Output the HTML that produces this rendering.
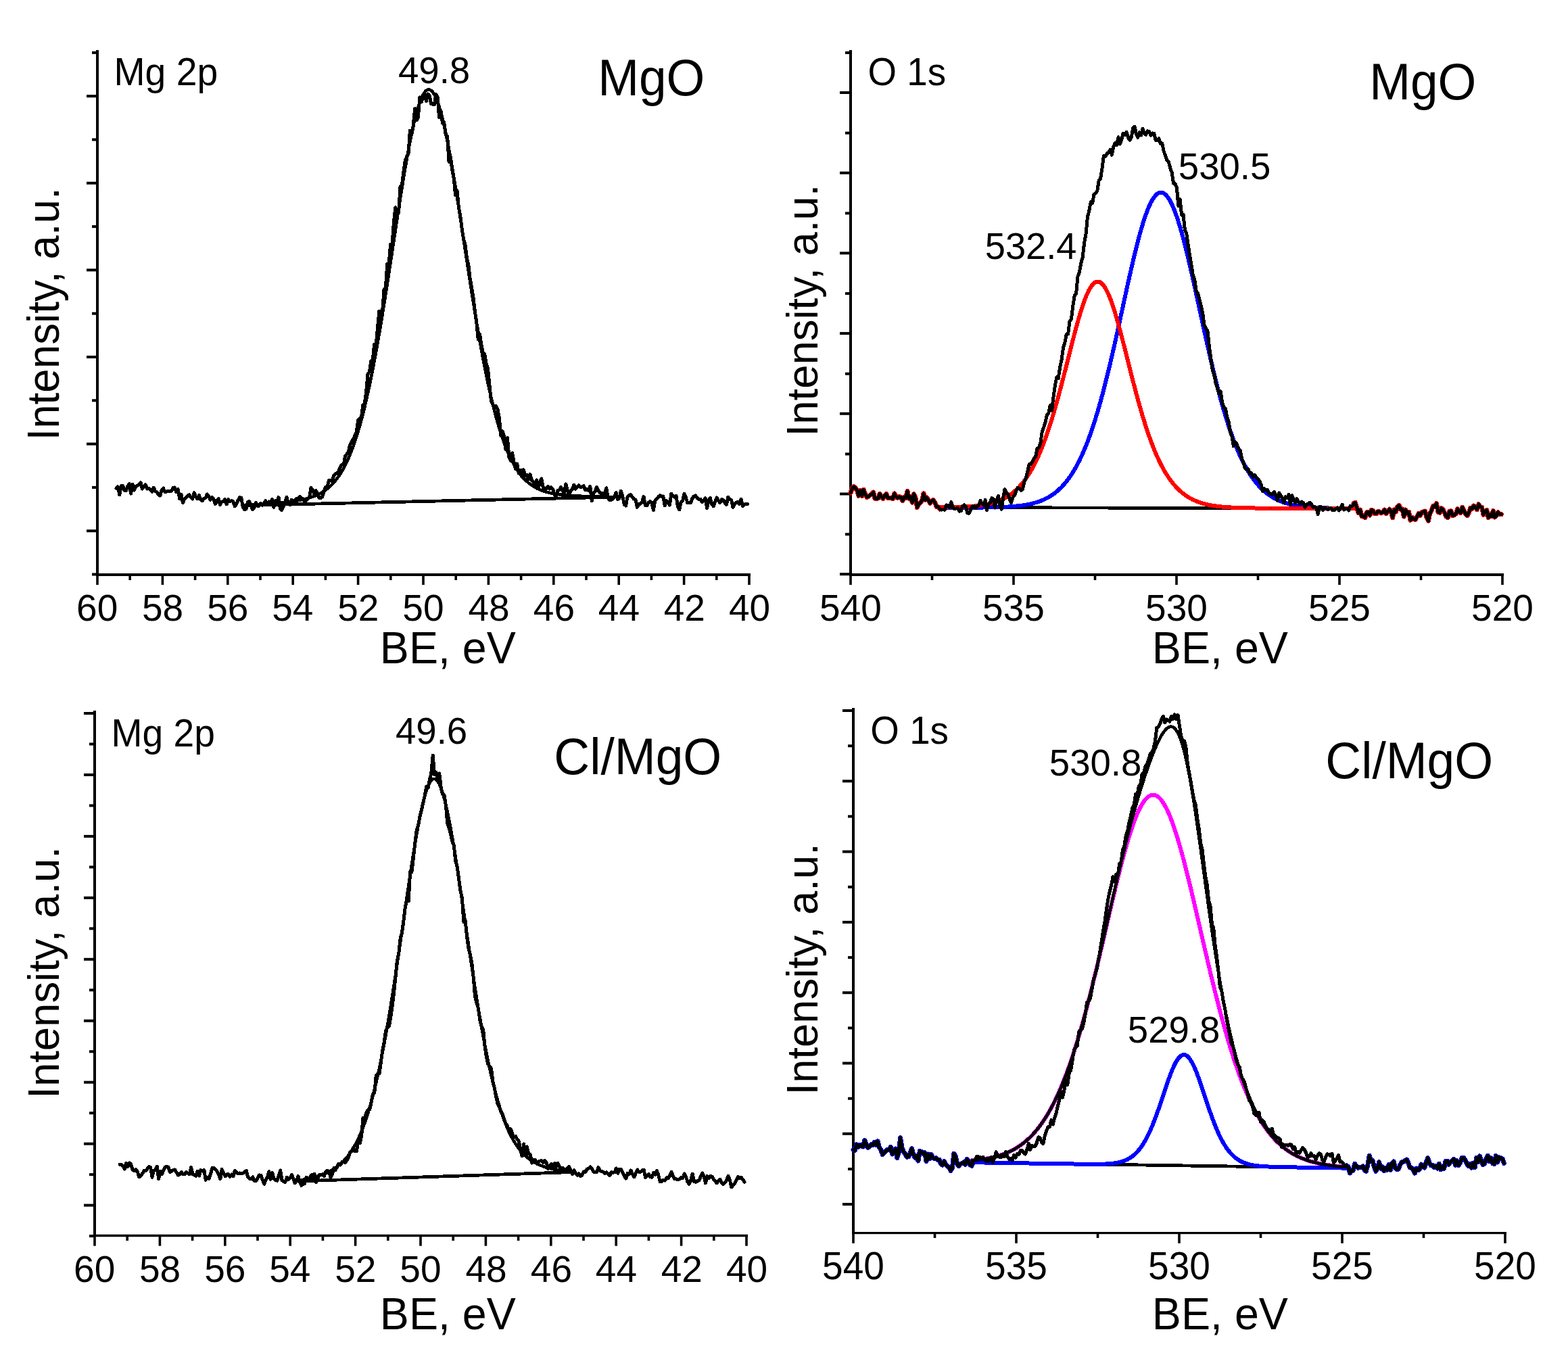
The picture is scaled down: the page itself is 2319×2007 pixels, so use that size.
<!DOCTYPE html>
<html><head><meta charset="utf-8"><title>XPS spectra</title>
<style>html,body{margin:0;padding:0;background:#fff;}svg{display:block;}</style></head>
<body><svg width="2319" height="2007" viewBox="0 0 2319 2007">
<rect width="2319" height="2007" fill="#fff"/>
<rect x="142.00" y="74.00" width="4.00" height="778.00" fill="#000"/>
<rect x="142.00" y="848.00" width="968.00" height="4.00" fill="#000"/>
<rect x="128.00" y="140.20" width="16.00" height="4.00" fill="#000"/>
<rect x="128.00" y="268.80" width="16.00" height="4.00" fill="#000"/>
<rect x="128.00" y="397.40" width="16.00" height="4.00" fill="#000"/>
<rect x="128.00" y="526.00" width="16.00" height="4.00" fill="#000"/>
<rect x="128.00" y="654.60" width="16.00" height="4.00" fill="#000"/>
<rect x="128.00" y="783.20" width="16.00" height="4.00" fill="#000"/>
<rect x="136.00" y="75.90" width="8.00" height="4.00" fill="#000"/>
<rect x="136.00" y="204.50" width="8.00" height="4.00" fill="#000"/>
<rect x="136.00" y="333.10" width="8.00" height="4.00" fill="#000"/>
<rect x="136.00" y="461.70" width="8.00" height="4.00" fill="#000"/>
<rect x="136.00" y="590.30" width="8.00" height="4.00" fill="#000"/>
<rect x="136.00" y="718.90" width="8.00" height="4.00" fill="#000"/>
<rect x="136.00" y="847.50" width="8.00" height="4.00" fill="#000"/>
<rect x="142.20" y="850.00" width="3.60" height="15.00" fill="#000"/>
<rect x="238.60" y="850.00" width="3.60" height="15.00" fill="#000"/>
<rect x="335.00" y="850.00" width="3.60" height="15.00" fill="#000"/>
<rect x="431.40" y="850.00" width="3.60" height="15.00" fill="#000"/>
<rect x="527.80" y="850.00" width="3.60" height="15.00" fill="#000"/>
<rect x="624.20" y="850.00" width="3.60" height="15.00" fill="#000"/>
<rect x="720.60" y="850.00" width="3.60" height="15.00" fill="#000"/>
<rect x="817.00" y="850.00" width="3.60" height="15.00" fill="#000"/>
<rect x="913.40" y="850.00" width="3.60" height="15.00" fill="#000"/>
<rect x="1009.80" y="850.00" width="3.60" height="15.00" fill="#000"/>
<rect x="1106.20" y="850.00" width="3.60" height="15.00" fill="#000"/>
<rect x="190.40" y="850.00" width="3.60" height="8.00" fill="#000"/>
<rect x="286.80" y="850.00" width="3.60" height="8.00" fill="#000"/>
<rect x="383.20" y="850.00" width="3.60" height="8.00" fill="#000"/>
<rect x="479.60" y="850.00" width="3.60" height="8.00" fill="#000"/>
<rect x="576.00" y="850.00" width="3.60" height="8.00" fill="#000"/>
<rect x="672.40" y="850.00" width="3.60" height="8.00" fill="#000"/>
<rect x="768.80" y="850.00" width="3.60" height="8.00" fill="#000"/>
<rect x="865.20" y="850.00" width="3.60" height="8.00" fill="#000"/>
<rect x="961.60" y="850.00" width="3.60" height="8.00" fill="#000"/>
<rect x="1058.00" y="850.00" width="3.60" height="8.00" fill="#000"/>
<path d="M360.0,747.5 L915.0,735.0" fill="none" stroke="#000" stroke-width="4.80" stroke-linejoin="round" stroke-linecap="round" shape-rendering="crispEdges"/>
<path d="M360.0,747.5 L361.5,747.4 L363.0,747.3 L364.5,747.2 L366.0,747.2 L367.5,747.1 L369.0,747.0 L370.5,746.9 L372.0,746.8 L373.5,746.7 L375.0,746.6 L376.5,746.5 L378.0,746.4 L379.5,746.3 L381.0,746.2 L382.5,746.1 L384.0,746.0 L385.5,745.9 L387.0,745.8 L388.5,745.7 L390.0,745.6 L391.5,745.5 L393.0,745.4 L394.5,745.3 L396.0,745.2 L397.5,745.1 L399.0,744.9 L400.5,744.8 L402.0,744.7 L403.5,744.6 L405.0,744.5 L406.5,744.3 L408.0,744.2 L409.5,744.1 L411.0,743.9 L412.5,743.8 L414.0,743.6 L415.5,743.5 L417.0,743.4 L418.5,743.2 L420.0,743.0 L421.5,742.9 L423.0,742.7 L424.5,742.5 L426.0,742.4 L427.5,742.2 L429.0,742.0 L430.5,741.8 L432.0,741.6 L433.5,741.4 L435.0,741.2 L436.5,740.9 L438.0,740.7 L439.5,740.4 L441.0,740.2 L442.5,739.9 L444.0,739.6 L445.5,739.3 L447.0,739.0 L448.5,738.7 L450.0,738.3 L451.5,738.0 L453.0,737.6 L454.5,737.2 L456.0,736.8 L457.5,736.3 L459.0,735.9 L460.5,735.4 L462.0,734.9 L463.5,734.3 L465.0,733.7 L466.5,733.1 L468.0,732.5 L469.5,731.8 L471.0,731.1 L472.5,730.3 L474.0,729.5 L475.5,728.7 L477.0,727.8 L478.5,726.8 L480.0,725.8 L481.5,724.8 L483.0,723.6 L484.5,722.4 L486.0,721.2 L487.5,719.9 L489.0,718.5 L490.5,717.0 L492.0,715.4 L493.5,713.8 L495.0,712.1 L496.5,710.3 L498.0,708.3 L499.5,706.3 L501.0,704.2 L502.5,702.0 L504.0,699.6 L505.5,697.2 L507.0,694.6 L508.5,691.9 L510.0,689.0 L511.5,686.1 L513.0,683.0 L514.5,679.7 L516.0,676.3 L517.5,672.8 L519.0,669.1 L520.5,665.2 L522.0,661.2 L523.5,657.0 L525.0,652.6 L526.5,648.1 L528.0,643.4 L529.5,638.5 L531.0,633.4 L532.5,628.2 L534.0,622.7 L535.5,617.1 L537.0,611.3 L538.5,605.3 L540.0,599.1 L541.5,592.7 L543.0,586.1 L544.5,579.3 L546.0,572.4 L547.5,565.2 L549.0,557.8 L550.5,550.3 L552.0,542.6 L553.5,534.7 L555.0,526.6 L556.5,518.4 L558.0,510.0 L559.5,501.4 L561.0,492.7 L562.5,483.8 L564.0,474.8 L565.5,465.7 L567.0,456.4 L568.5,447.0 L570.0,437.5 L571.5,427.9 L573.0,418.3 L574.5,408.5 L576.0,398.7 L577.5,388.8 L579.0,378.9 L580.5,369.0 L582.0,359.0 L583.5,349.1 L585.0,339.2 L586.5,329.3 L588.0,319.5 L589.5,309.7 L591.0,300.0 L592.5,290.4 L594.0,280.9 L595.5,271.6 L597.0,262.4 L598.5,253.4 L600.0,244.6 L601.5,235.9 L603.0,227.5 L604.5,219.4 L606.0,211.5 L607.5,203.9 L609.0,196.6 L610.5,189.6 L612.0,182.9 L613.5,176.6 L615.0,170.6 L616.5,165.0 L618.0,159.9 L619.5,155.1 L621.0,150.8 L622.5,146.9 L624.0,143.4 L625.5,140.4 L627.0,137.9 L628.5,135.8 L630.0,134.2 L631.5,133.1 L633.0,132.5 L634.5,132.4 L636.0,132.8 L637.5,133.6 L639.0,135.0 L640.5,136.8 L642.0,139.1 L643.5,141.9 L645.0,145.1 L646.5,148.8 L648.0,153.0 L649.5,157.5 L651.0,162.5 L652.5,167.9 L654.0,173.6 L655.5,179.8 L657.0,186.3 L658.5,193.1 L660.0,200.2 L661.5,207.7 L663.0,215.4 L664.5,223.4 L666.0,231.7 L667.5,240.1 L669.0,248.8 L670.5,257.7 L672.0,266.8 L673.5,276.0 L675.0,285.4 L676.5,294.8 L678.0,304.4 L679.5,314.1 L681.0,323.8 L682.5,333.6 L684.0,343.5 L685.5,353.4 L687.0,363.2 L688.5,373.1 L690.0,382.9 L691.5,392.8 L693.0,402.5 L694.5,412.2 L696.0,421.9 L697.5,431.4 L699.0,440.9 L700.5,450.2 L702.0,459.5 L703.5,468.6 L705.0,477.6 L706.5,486.4 L708.0,495.1 L709.5,503.7 L711.0,512.1 L712.5,520.3 L714.0,528.4 L715.5,536.3 L717.0,544.0 L718.5,551.5 L720.0,558.8 L721.5,566.0 L723.0,572.9 L724.5,579.7 L726.0,586.3 L727.5,592.7 L729.0,598.9 L730.5,604.9 L732.0,610.7 L733.5,616.3 L735.0,621.7 L736.5,627.0 L738.0,632.1 L739.5,636.9 L741.0,641.6 L742.5,646.2 L744.0,650.5 L745.5,654.7 L747.0,658.7 L748.5,662.5 L750.0,666.2 L751.5,669.8 L753.0,673.1 L754.5,676.4 L756.0,679.5 L757.5,682.4 L759.0,685.2 L760.5,687.9 L762.0,690.4 L763.5,692.9 L765.0,695.2 L766.5,697.4 L768.0,699.5 L769.5,701.5 L771.0,703.3 L772.5,705.1 L774.0,706.8 L775.5,708.4 L777.0,709.9 L778.5,711.4 L780.0,712.7 L781.5,714.0 L783.0,715.2 L784.5,716.3 L786.0,717.4 L787.5,718.4 L789.0,719.4 L790.5,720.3 L792.0,721.1 L793.5,721.9 L795.0,722.7 L796.5,723.4 L798.0,724.1 L799.5,724.7 L801.0,725.3 L802.5,725.8 L804.0,726.3 L805.5,726.8 L807.0,727.3 L808.5,727.7 L810.0,728.1 L811.5,728.5 L813.0,728.9 L814.5,729.2 L816.0,729.5 L817.5,729.8 L819.0,730.1 L820.5,730.4 L822.0,730.6 L823.5,730.8 L825.0,731.1 L826.5,731.3 L828.0,731.5 L829.5,731.6 L831.0,731.8 L832.5,732.0 L834.0,732.1 L835.5,732.3 L837.0,732.4 L838.5,732.5 L840.0,732.7 L841.5,732.8 L843.0,732.9 L844.5,733.0 L846.0,733.1 L847.5,733.2 L849.0,733.3 L850.5,733.4 L852.0,733.5 L853.5,733.5 L855.0,733.6 L856.5,733.7 L858.0,733.7 L859.5,733.8 L861.0,733.9 L862.5,733.9 L864.0,734.0 L865.5,734.0 L867.0,734.1 L868.5,734.1 L870.0,734.2 L871.5,734.2 L873.0,734.3 L874.5,734.3 L876.0,734.4 L877.5,734.4 L879.0,734.4 L880.5,734.5 L882.0,734.5 L883.5,734.5 L885.0,734.6 L886.5,734.6 L888.0,734.6 L889.5,734.7 L891.0,734.7 L892.5,734.7 L894.0,734.7 L895.5,734.8 L897.0,734.8 L898.5,734.8 L900.0,734.8 L901.5,734.9 L903.0,734.9 L904.5,734.9 L906.0,734.9 L907.5,734.9 L909.0,734.9 L910.5,735.0 L912.0,735.0 L913.5,735.0 L915.0,735.0" fill="none" stroke="#000" stroke-width="4.60" stroke-linejoin="round" stroke-linecap="round" shape-rendering="crispEdges"/>
<path d="M172.0,722.5 L174.4,719.9 L176.8,731.8 L179.2,718.7 L181.6,718.6 L184.0,725.1 L186.4,725.4 L188.8,719.3 L191.2,715.4 L193.6,730.2 L196.0,716.1 L198.4,725.1 L200.8,719.2 L203.2,718.1 L205.6,716.4 L208.0,713.6 L210.4,723.0 L212.8,719.6 L215.2,716.9 L217.6,723.0 L220.0,722.1 L222.4,724.1 L224.8,727.1 L227.2,721.2 L229.6,726.4 L232.0,727.9 L234.4,731.9 L236.8,733.0 L239.2,724.5 L241.6,722.1 L244.0,727.6 L246.4,727.2 L248.8,726.2 L251.2,726.4 L253.6,726.1 L256.0,721.2 L258.4,721.0 L260.8,727.8 L263.2,723.5 L265.6,737.7 L268.0,731.3 L270.4,743.5 L272.8,738.0 L275.2,735.7 L277.6,733.1 L280.0,731.6 L282.4,735.5 L284.8,738.0 L287.2,728.7 L289.6,734.8 L292.0,737.8 L294.4,732.2 L296.8,739.2 L299.2,740.7 L301.6,737.4 L304.0,736.3 L306.4,731.0 L308.8,734.3 L311.2,739.4 L313.6,735.7 L316.0,738.2 L318.4,745.3 L320.8,740.4 L323.2,737.6 L325.6,746.4 L328.0,742.0 L330.4,741.9 L332.8,738.3 L335.2,746.0 L337.6,738.8 L340.0,742.0 L342.4,740.6 L344.8,741.6 L347.2,748.6 L349.6,745.9 L352.0,740.0 L354.4,735.8 L356.8,736.2 L359.2,749.7 L361.6,753.4 L364.0,753.1 L366.4,742.2 L368.8,741.7 L371.2,747.4 L373.6,753.6 L376.0,750.4 L378.4,743.7 L380.8,748.2 L383.2,748.1 L385.6,744.8 L388.0,747.4 L390.4,744.8 L392.8,740.6 L395.2,746.2 L397.6,741.9 L400.0,743.0 L402.4,738.6 L404.8,750.3 L407.2,740.8 L409.6,741.9 L412.0,735.5 L414.4,752.0 L416.8,754.4 L419.2,749.1 L421.6,743.2 L424.0,735.3 L426.4,744.1 L428.8,746.9 L431.2,739.4 L433.6,743.3 L436.0,739.8 L438.4,737.7 L440.8,738.8 L443.2,734.5 L445.6,736.7 L448.0,738.0 L450.4,742.1 L452.8,739.8 L455.2,737.8 L457.6,735.3 L460.0,721.4 L462.4,724.6 L464.8,730.6 L467.2,725.6 L469.6,729.3 L472.0,736.3 L474.4,736.7 L476.8,734.8 L479.2,726.8 L481.6,720.2 L484.0,720.2 L486.4,710.7 L488.8,710.7 L491.2,711.9 L493.6,703.1 L496.0,700.8 L498.4,700.3 L500.8,696.8 L503.2,690.5 L505.6,687.4 L508.0,688.4 L510.4,675.0 L512.8,671.6 L515.2,668.2 L517.6,658.1 L520.0,653.6 L522.4,649.5 L524.8,644.5 L527.2,638.7 L529.6,621.7 L532.0,618.8 L534.4,618.7 L536.8,599.3 L539.2,597.0 L541.6,579.6 L544.0,552.9 L546.4,549.9 L548.8,533.8 L551.2,533.2 L553.6,509.3 L556.0,513.0 L558.4,486.2 L560.8,460.1 L563.2,470.2 L565.6,460.3 L568.0,428.5 L570.4,425.1 L572.8,390.0 L575.2,389.9 L577.6,361.4 L580.0,362.2 L582.4,329.2 L584.8,306.7 L587.2,315.0 L589.6,314.2 L592.0,276.5 L594.4,273.9 L596.8,254.7 L599.2,237.9 L601.6,231.9 L604.0,227.5 L606.4,193.2 L608.8,198.9 L611.2,186.3 L613.6,160.7 L616.0,177.9 L618.4,174.1 L620.8,143.9 L623.2,151.0 L625.6,143.0 L628.0,137.9 L630.4,149.8 L632.8,139.0 L635.2,141.6 L637.6,153.6 L640.0,154.3 L642.4,154.8 L644.8,139.6 L647.2,143.8 L649.6,173.8 L652.0,164.1 L654.4,181.9 L656.8,181.5 L659.2,198.9 L661.6,201.1 L664.0,239.3 L666.4,232.2 L668.8,252.2 L671.2,263.9 L673.6,288.6 L676.0,281.7 L678.4,306.8 L680.8,319.2 L683.2,338.6 L685.6,353.8 L688.0,362.0 L690.4,381.5 L692.8,391.1 L695.2,412.2 L697.6,425.5 L700.0,440.3 L702.4,460.9 L704.8,476.9 L707.2,501.9 L709.6,494.2 L712.0,510.5 L714.4,521.8 L716.8,523.8 L719.2,538.0 L721.6,545.5 L724.0,570.1 L726.4,592.7 L728.8,597.7 L731.2,604.8 L733.6,600.7 L736.0,605.7 L738.4,618.0 L740.8,644.5 L743.2,637.8 L745.6,645.0 L748.0,664.9 L750.4,647.5 L752.8,675.6 L755.2,681.4 L757.6,669.8 L760.0,682.8 L762.4,693.8 L764.8,686.0 L767.2,699.6 L769.6,695.1 L772.0,705.3 L774.4,694.8 L776.8,703.9 L779.2,702.6 L781.6,709.1 L784.0,701.6 L786.4,710.0 L788.8,713.4 L791.2,718.3 L793.6,709.8 L796.0,722.3 L798.4,713.0 L800.8,708.0 L803.2,720.5 L805.6,726.4 L808.0,722.1 L810.4,719.6 L812.8,723.0 L815.2,720.9 L817.6,723.3 L820.0,731.5 L822.4,734.3 L824.8,725.5 L827.2,724.6 L829.6,720.8 L832.0,725.8 L834.4,730.0 L836.8,716.0 L839.2,725.4 L841.6,732.9 L844.0,725.6 L846.4,723.4 L848.8,717.1 L851.2,723.2 L853.6,719.9 L856.0,717.8 L858.4,720.9 L860.8,719.8 L863.2,718.7 L865.6,724.8 L868.0,723.2 L870.4,725.2 L872.8,719.5 L875.2,741.0 L877.6,729.9 L880.0,727.3 L882.4,720.5 L884.8,725.1 L887.2,728.9 L889.6,729.8 L892.0,729.9 L894.4,729.7 L896.8,721.9 L899.2,736.5 L901.6,740.0 L904.0,739.5 L906.4,738.0 L908.8,734.7 L911.2,728.4 L913.6,738.8 L916.0,736.6 L918.4,726.1 L920.8,734.0 L923.2,745.8 L925.6,748.0 L928.0,734.8 L930.4,732.4 L932.8,731.7 L935.2,735.3 L937.6,738.1 L940.0,739.2 L942.4,750.2 L944.8,745.4 L947.2,745.3 L949.6,742.5 L952.0,734.5 L954.4,747.4 L956.8,747.9 L959.2,743.3 L961.6,741.3 L964.0,743.5 L966.4,754.8 L968.8,740.6 L971.2,738.2 L973.6,734.9 L976.0,732.6 L978.4,734.2 L980.8,733.9 L983.2,747.9 L985.6,740.8 L988.0,742.4 L990.4,747.1 L992.8,730.2 L995.2,734.0 L997.6,735.1 L1000.0,733.4 L1002.4,749.7 L1004.8,753.9 L1007.2,742.5 L1009.6,740.7 L1012.0,730.2 L1014.4,735.9 L1016.8,743.7 L1019.2,743.1 L1021.6,743.7 L1024.0,736.6 L1026.4,734.1 L1028.8,733.0 L1031.2,736.7 L1033.6,738.5 L1036.0,738.1 L1038.4,742.9 L1040.8,740.0 L1043.2,736.8 L1045.6,751.4 L1048.0,740.1 L1050.4,736.5 L1052.8,745.6 L1055.2,748.9 L1057.6,742.4 L1060.0,736.0 L1062.4,740.4 L1064.8,743.7 L1067.2,738.7 L1069.6,739.4 L1072.0,743.6 L1074.4,746.2 L1076.8,735.2 L1079.2,738.6 L1081.6,739.1 L1084.0,750.2 L1086.4,745.6 L1088.8,743.6 L1091.2,742.4 L1093.6,745.8 L1096.0,738.2 L1098.4,748.4 L1100.8,746.2 L1103.2,745.4 L1105.6,745.6" fill="none" stroke="#000" stroke-width="5.00" stroke-linejoin="round" stroke-linecap="round" shape-rendering="crispEdges"/>
<rect x="138.00" y="1051.00" width="4.00" height="778.25" fill="#000"/>
<rect x="138.00" y="1825.75" width="968.00" height="3.50" fill="#000"/>
<rect x="124.00" y="1053.00" width="16.00" height="4.00" fill="#000"/>
<rect x="124.00" y="1143.95" width="16.00" height="4.00" fill="#000"/>
<rect x="124.00" y="1234.90" width="16.00" height="4.00" fill="#000"/>
<rect x="124.00" y="1325.85" width="16.00" height="4.00" fill="#000"/>
<rect x="124.00" y="1416.80" width="16.00" height="4.00" fill="#000"/>
<rect x="124.00" y="1507.75" width="16.00" height="4.00" fill="#000"/>
<rect x="124.00" y="1598.70" width="16.00" height="4.00" fill="#000"/>
<rect x="124.00" y="1689.65" width="16.00" height="4.00" fill="#000"/>
<rect x="124.00" y="1780.60" width="16.00" height="4.00" fill="#000"/>
<rect x="132.00" y="1098.50" width="8.00" height="4.00" fill="#000"/>
<rect x="132.00" y="1189.45" width="8.00" height="4.00" fill="#000"/>
<rect x="132.00" y="1280.40" width="8.00" height="4.00" fill="#000"/>
<rect x="132.00" y="1371.35" width="8.00" height="4.00" fill="#000"/>
<rect x="132.00" y="1462.30" width="8.00" height="4.00" fill="#000"/>
<rect x="132.00" y="1553.25" width="8.00" height="4.00" fill="#000"/>
<rect x="132.00" y="1644.20" width="8.00" height="4.00" fill="#000"/>
<rect x="132.00" y="1735.15" width="8.00" height="4.00" fill="#000"/>
<rect x="132.00" y="1826.10" width="8.00" height="4.00" fill="#000"/>
<rect x="138.20" y="1827.50" width="3.60" height="15.20" fill="#000"/>
<rect x="234.60" y="1827.50" width="3.60" height="15.20" fill="#000"/>
<rect x="331.00" y="1827.50" width="3.60" height="15.20" fill="#000"/>
<rect x="427.40" y="1827.50" width="3.60" height="15.20" fill="#000"/>
<rect x="523.80" y="1827.50" width="3.60" height="15.20" fill="#000"/>
<rect x="620.20" y="1827.50" width="3.60" height="15.20" fill="#000"/>
<rect x="716.60" y="1827.50" width="3.60" height="15.20" fill="#000"/>
<rect x="813.00" y="1827.50" width="3.60" height="15.20" fill="#000"/>
<rect x="909.40" y="1827.50" width="3.60" height="15.20" fill="#000"/>
<rect x="1005.80" y="1827.50" width="3.60" height="15.20" fill="#000"/>
<rect x="1102.20" y="1827.50" width="3.60" height="15.20" fill="#000"/>
<rect x="186.40" y="1827.50" width="3.60" height="7.50" fill="#000"/>
<rect x="282.80" y="1827.50" width="3.60" height="7.50" fill="#000"/>
<rect x="379.20" y="1827.50" width="3.60" height="7.50" fill="#000"/>
<rect x="475.60" y="1827.50" width="3.60" height="7.50" fill="#000"/>
<rect x="572.00" y="1827.50" width="3.60" height="7.50" fill="#000"/>
<rect x="668.40" y="1827.50" width="3.60" height="7.50" fill="#000"/>
<rect x="764.80" y="1827.50" width="3.60" height="7.50" fill="#000"/>
<rect x="861.20" y="1827.50" width="3.60" height="7.50" fill="#000"/>
<rect x="957.60" y="1827.50" width="3.60" height="7.50" fill="#000"/>
<rect x="1054.00" y="1827.50" width="3.60" height="7.50" fill="#000"/>
<path d="M435.0,1747.2 L848.0,1733.5" fill="none" stroke="#000" stroke-width="4.80" stroke-linejoin="round" stroke-linecap="round" shape-rendering="crispEdges"/>
<path d="M435.0,1747.2 L436.5,1747.0 L438.0,1746.7 L439.5,1746.5 L441.0,1746.2 L442.5,1745.9 L444.0,1745.7 L445.5,1745.4 L447.0,1745.1 L448.5,1744.8 L450.0,1744.5 L451.5,1744.2 L453.0,1743.9 L454.5,1743.6 L456.0,1743.2 L457.5,1742.9 L459.0,1742.5 L460.5,1742.2 L462.0,1741.8 L463.5,1741.4 L465.0,1741.0 L466.5,1740.6 L468.0,1740.1 L469.5,1739.7 L471.0,1739.2 L472.5,1738.7 L474.0,1738.2 L475.5,1737.7 L477.0,1737.1 L478.5,1736.6 L480.0,1736.0 L481.5,1735.3 L483.0,1734.7 L484.5,1734.0 L486.0,1733.3 L487.5,1732.5 L489.0,1731.7 L490.5,1730.9 L492.0,1730.0 L493.5,1729.1 L495.0,1728.1 L496.5,1727.1 L498.0,1726.0 L499.5,1724.9 L501.0,1723.7 L502.5,1722.5 L504.0,1721.2 L505.5,1719.8 L507.0,1718.3 L508.5,1716.8 L510.0,1715.2 L511.5,1713.5 L513.0,1711.7 L514.5,1709.8 L516.0,1707.9 L517.5,1705.8 L519.0,1703.6 L520.5,1701.3 L522.0,1698.9 L523.5,1696.3 L525.0,1693.7 L526.5,1690.9 L528.0,1687.9 L529.5,1684.9 L531.0,1681.7 L532.5,1678.3 L534.0,1674.8 L535.5,1671.1 L537.0,1667.2 L538.5,1663.2 L540.0,1659.0 L541.5,1654.7 L543.0,1650.1 L544.5,1645.4 L546.0,1640.4 L547.5,1635.3 L549.0,1630.0 L550.5,1624.4 L552.0,1618.7 L553.5,1612.8 L555.0,1606.6 L556.5,1600.3 L558.0,1593.7 L559.5,1587.0 L561.0,1580.0 L562.5,1572.8 L564.0,1565.4 L565.5,1557.8 L567.0,1550.0 L568.5,1541.9 L570.0,1533.7 L571.5,1525.3 L573.0,1516.7 L574.5,1507.9 L576.0,1498.9 L577.5,1489.8 L579.0,1480.5 L580.5,1471.0 L582.0,1461.4 L583.5,1451.7 L585.0,1441.8 L586.5,1431.8 L588.0,1421.7 L589.5,1411.5 L591.0,1401.2 L592.5,1390.9 L594.0,1380.5 L595.5,1370.1 L597.0,1359.7 L598.5,1349.3 L600.0,1338.9 L601.5,1328.6 L603.0,1318.3 L604.5,1308.1 L606.0,1298.0 L607.5,1288.0 L609.0,1278.2 L610.5,1268.6 L612.0,1259.2 L613.5,1250.0 L615.0,1241.1 L616.5,1232.4 L618.0,1224.0 L619.5,1216.0 L621.0,1208.4 L622.5,1201.1 L624.0,1194.2 L625.5,1187.8 L627.0,1181.9 L628.5,1176.4 L630.0,1171.4 L631.5,1167.0 L633.0,1163.1 L634.5,1159.7 L636.0,1157.0 L637.5,1154.8 L639.0,1153.3 L640.5,1152.3 L642.0,1151.9 L643.5,1152.2 L645.0,1153.1 L646.5,1154.5 L648.0,1156.6 L649.5,1159.3 L651.0,1162.5 L652.5,1166.3 L654.0,1170.6 L655.5,1175.5 L657.0,1180.9 L658.5,1186.7 L660.0,1193.1 L661.5,1199.8 L663.0,1207.0 L664.5,1214.5 L666.0,1222.5 L667.5,1230.7 L669.0,1239.3 L670.5,1248.1 L672.0,1257.2 L673.5,1266.5 L675.0,1276.1 L676.5,1285.8 L678.0,1295.6 L679.5,1305.6 L681.0,1315.7 L682.5,1325.9 L684.0,1336.1 L685.5,1346.4 L687.0,1356.8 L688.5,1367.1 L690.0,1377.4 L691.5,1387.7 L693.0,1397.9 L694.5,1408.1 L696.0,1418.1 L697.5,1428.1 L699.0,1438.0 L700.5,1447.8 L702.0,1457.5 L703.5,1467.0 L705.0,1476.4 L706.5,1485.6 L708.0,1494.6 L709.5,1503.5 L711.0,1512.2 L712.5,1520.7 L714.0,1529.0 L715.5,1537.1 L717.0,1545.0 L718.5,1552.7 L720.0,1560.3 L721.5,1567.6 L723.0,1574.6 L724.5,1581.5 L726.0,1588.2 L727.5,1594.7 L729.0,1600.9 L730.5,1607.0 L732.0,1612.8 L733.5,1618.4 L735.0,1623.9 L736.5,1629.1 L738.0,1634.1 L739.5,1638.9 L741.0,1643.6 L742.5,1648.0 L744.0,1652.3 L745.5,1656.4 L747.0,1660.3 L748.5,1664.1 L750.0,1667.7 L751.5,1671.1 L753.0,1674.4 L754.5,1677.5 L756.0,1680.5 L757.5,1683.3 L759.0,1686.0 L760.5,1688.5 L762.0,1691.0 L763.5,1693.3 L765.0,1695.5 L766.5,1697.6 L768.0,1699.6 L769.5,1701.4 L771.0,1703.2 L772.5,1704.9 L774.0,1706.5 L775.5,1708.0 L777.0,1709.5 L778.5,1710.8 L780.0,1712.1 L781.5,1713.3 L783.0,1714.5 L784.5,1715.5 L786.0,1716.6 L787.5,1717.5 L789.0,1718.5 L790.5,1719.3 L792.0,1720.1 L793.5,1720.9 L795.0,1721.7 L796.5,1722.4 L798.0,1723.0 L799.5,1723.6 L801.0,1724.2 L802.5,1724.8 L804.0,1725.3 L805.5,1725.8 L807.0,1726.3 L808.5,1726.7 L810.0,1727.2 L811.5,1727.6 L813.0,1728.0 L814.5,1728.3 L816.0,1728.7 L817.5,1729.0 L819.0,1729.4 L820.5,1729.7 L822.0,1729.9 L823.5,1730.2 L825.0,1730.5 L826.5,1730.8 L828.0,1731.0 L829.5,1731.2 L831.0,1731.5 L832.5,1731.7 L834.0,1731.9 L835.5,1732.1 L837.0,1732.3 L838.5,1732.5 L840.0,1732.6 L841.5,1732.8 L843.0,1733.0 L844.5,1733.1 L846.0,1733.3 L847.5,1733.5" fill="none" stroke="#000" stroke-width="4.60" stroke-linejoin="round" stroke-linecap="round" shape-rendering="crispEdges"/>
<path d="M177.0,1722.4 L179.4,1722.4 L181.8,1724.3 L184.2,1729.0 L186.6,1720.2 L189.0,1725.5 L191.4,1719.9 L193.8,1722.3 L196.2,1730.2 L198.6,1731.9 L201.0,1729.5 L203.4,1733.1 L205.8,1740.8 L208.2,1739.1 L210.6,1735.7 L213.0,1731.4 L215.4,1731.9 L217.8,1729.1 L220.2,1725.4 L222.6,1726.4 L225.0,1741.2 L227.4,1731.4 L229.8,1730.8 L232.2,1725.2 L234.6,1743.5 L237.0,1732.0 L239.4,1736.5 L241.8,1731.0 L244.2,1726.1 L246.6,1725.3 L249.0,1726.3 L251.4,1733.8 L253.8,1731.9 L256.2,1730.7 L258.6,1730.0 L261.0,1733.9 L263.4,1738.1 L265.8,1737.0 L268.2,1733.4 L270.6,1736.4 L273.0,1737.0 L275.4,1733.5 L277.8,1735.2 L280.2,1736.8 L282.6,1726.7 L285.0,1736.9 L287.4,1737.7 L289.8,1739.3 L292.2,1732.2 L294.6,1739.0 L297.0,1730.6 L299.4,1732.1 L301.8,1730.4 L304.2,1745.4 L306.6,1741.5 L309.0,1743.1 L311.4,1736.9 L313.8,1727.6 L316.2,1727.5 L318.6,1729.7 L321.0,1732.2 L323.4,1737.4 L325.8,1743.7 L328.2,1729.5 L330.6,1734.7 L333.0,1739.6 L335.4,1737.1 L337.8,1736.4 L340.2,1740.1 L342.6,1737.0 L345.0,1739.9 L347.4,1731.2 L349.8,1733.6 L352.2,1735.9 L354.6,1734.9 L357.0,1735.9 L359.4,1734.9 L361.8,1733.5 L364.2,1731.4 L366.6,1740.6 L369.0,1743.3 L371.4,1743.9 L373.8,1740.9 L376.2,1746.5 L378.6,1746.5 L381.0,1742.6 L383.4,1737.9 L385.8,1738.2 L388.2,1744.6 L390.6,1751.2 L393.0,1745.6 L395.4,1741.4 L397.8,1732.8 L400.2,1744.3 L402.6,1734.3 L405.0,1743.0 L407.4,1745.3 L409.8,1746.3 L412.2,1739.2 L414.6,1730.9 L417.0,1745.6 L419.4,1747.2 L421.8,1748.7 L424.2,1741.4 L426.6,1744.7 L429.0,1742.3 L431.4,1737.5 L433.8,1743.0 L436.2,1749.9 L438.6,1745.7 L441.0,1739.5 L443.4,1747.9 L445.8,1753.4 L448.2,1751.4 L450.6,1750.3 L453.0,1741.0 L455.4,1744.6 L457.8,1742.5 L460.2,1738.0 L462.6,1737.4 L465.0,1736.5 L467.4,1748.8 L469.8,1744.1 L472.2,1737.6 L474.6,1737.8 L477.0,1736.7 L479.4,1739.4 L481.8,1733.2 L484.2,1731.1 L486.6,1732.9 L489.0,1741.6 L491.4,1736.8 L493.8,1727.4 L496.2,1730.5 L498.6,1725.8 L501.0,1721.1 L503.4,1723.0 L505.8,1718.6 L508.2,1718.3 L510.6,1719.6 L513.0,1715.9 L515.4,1711.5 L517.8,1704.1 L520.2,1702.7 L522.6,1697.2 L525.0,1702.6 L527.4,1702.5 L529.8,1688.1 L532.2,1690.9 L534.6,1680.3 L537.0,1653.4 L539.4,1653.9 L541.8,1645.8 L544.2,1641.8 L546.6,1641.2 L549.0,1631.3 L551.4,1618.1 L553.8,1616.5 L556.2,1591.1 L558.6,1588.6 L561.0,1587.7 L563.4,1571.0 L565.8,1553.0 L568.2,1541.5 L570.6,1524.1 L573.0,1519.1 L575.4,1518.2 L577.8,1504.6 L580.2,1487.0 L582.6,1468.0 L585.0,1444.5 L587.4,1420.7 L589.8,1410.0 L592.2,1387.0 L594.6,1379.4 L597.0,1361.2 L599.4,1341.0 L601.8,1331.5 L604.2,1332.8 L606.6,1289.1 L609.0,1289.5 L611.4,1268.5 L613.8,1246.7 L616.2,1227.9 L618.6,1221.0 L621.0,1207.7 L623.4,1198.1 L625.8,1187.2 L628.2,1177.3 L630.6,1163.7 L633.0,1165.4 L635.4,1152.9 L637.8,1144.1 L640.2,1117.0 L642.6,1145.8 L645.0,1142.4 L647.4,1155.6 L649.8,1144.0 L652.2,1164.9 L654.6,1174.7 L657.0,1175.8 L659.4,1191.5 L661.8,1218.4 L664.2,1224.7 L666.6,1233.9 L669.0,1245.1 L671.4,1250.8 L673.8,1274.2 L676.2,1281.5 L678.6,1300.1 L681.0,1317.4 L683.4,1328.1 L685.8,1363.7 L688.2,1361.8 L690.6,1386.0 L693.0,1403.1 L695.4,1411.6 L697.8,1424.8 L700.2,1445.2 L702.6,1474.5 L705.0,1483.2 L707.4,1491.3 L709.8,1509.1 L712.2,1518.4 L714.6,1522.4 L717.0,1547.1 L719.4,1563.0 L721.8,1574.0 L724.2,1577.0 L726.6,1580.5 L729.0,1600.3 L731.4,1609.3 L733.8,1623.2 L736.2,1633.1 L738.6,1638.0 L741.0,1644.1 L743.4,1648.2 L745.8,1655.4 L748.2,1662.5 L750.6,1665.2 L753.0,1674.7 L755.4,1669.9 L757.8,1677.0 L760.2,1681.5 L762.6,1680.8 L765.0,1685.0 L767.4,1688.1 L769.8,1701.5 L772.2,1709.8 L774.6,1691.9 L777.0,1708.7 L779.4,1696.0 L781.8,1706.8 L784.2,1707.4 L786.6,1720.0 L789.0,1715.8 L791.4,1715.6 L793.8,1721.2 L796.2,1718.0 L798.6,1717.1 L801.0,1716.6 L803.4,1719.6 L805.8,1716.4 L808.2,1719.6 L810.6,1728.5 L813.0,1724.9 L815.4,1721.6 L817.8,1725.0 L820.2,1720.4 L822.6,1725.5 L825.0,1720.2 L827.4,1725.0 L829.8,1727.9 L832.2,1727.2 L834.6,1730.1 L837.0,1729.7 L839.4,1727.8 L841.8,1725.5 L844.2,1731.6 L846.6,1736.2 L849.0,1730.8 L851.4,1735.0 L853.8,1738.3 L856.2,1735.9 L858.6,1739.6 L861.0,1737.8 L863.4,1733.0 L865.8,1733.2 L868.2,1729.3 L870.6,1728.1 L873.0,1725.8 L875.4,1728.6 L877.8,1733.2 L880.2,1733.1 L882.6,1733.8 L885.0,1726.6 L887.4,1731.5 L889.8,1732.6 L892.2,1733.2 L894.6,1735.5 L897.0,1733.8 L899.4,1736.5 L901.8,1738.6 L904.2,1733.5 L906.6,1734.2 L909.0,1733.8 L911.4,1728.0 L913.8,1735.2 L916.2,1729.2 L918.6,1729.7 L921.0,1734.3 L923.4,1739.3 L925.8,1743.0 L928.2,1735.4 L930.6,1736.7 L933.0,1731.0 L935.4,1736.7 L937.8,1740.9 L940.2,1735.3 L942.6,1729.9 L945.0,1733.2 L947.4,1733.3 L949.8,1731.0 L952.2,1730.3 L954.6,1741.3 L957.0,1738.9 L959.4,1736.8 L961.8,1740.8 L964.2,1741.3 L966.6,1734.3 L969.0,1737.2 L971.4,1731.5 L973.8,1738.0 L976.2,1748.0 L978.6,1747.3 L981.0,1745.4 L983.4,1746.0 L985.8,1741.9 L988.2,1742.7 L990.6,1738.9 L993.0,1733.3 L995.4,1739.4 L997.8,1743.5 L1000.2,1743.7 L1002.6,1744.9 L1005.0,1743.6 L1007.4,1741.2 L1009.8,1742.6 L1012.2,1736.0 L1014.6,1740.7 L1017.0,1748.1 L1019.4,1751.2 L1021.8,1745.5 L1024.2,1736.0 L1026.6,1747.5 L1029.0,1748.1 L1031.4,1746.7 L1033.8,1745.9 L1036.2,1740.4 L1038.6,1735.0 L1041.0,1739.3 L1043.4,1749.9 L1045.8,1739.6 L1048.2,1742.7 L1050.6,1739.3 L1053.0,1740.2 L1055.4,1744.0 L1057.8,1747.1 L1060.2,1749.9 L1062.6,1746.2 L1065.0,1744.4 L1067.4,1749.2 L1069.8,1751.5 L1072.2,1749.0 L1074.6,1745.6 L1077.0,1739.3 L1079.4,1745.0 L1081.8,1755.8 L1084.2,1753.2 L1086.6,1750.0 L1089.0,1745.4 L1091.4,1740.4 L1093.8,1742.8 L1096.2,1741.4 L1098.6,1744.5 L1101.0,1748.1" fill="none" stroke="#000" stroke-width="5.00" stroke-linejoin="round" stroke-linecap="round" shape-rendering="crispEdges"/>
<rect x="1256.00" y="74.00" width="4.00" height="778.00" fill="#000"/>
<rect x="1256.00" y="848.00" width="968.00" height="4.00" fill="#000"/>
<rect x="1242.00" y="135.00" width="16.00" height="4.00" fill="#000"/>
<rect x="1242.00" y="253.70" width="16.00" height="4.00" fill="#000"/>
<rect x="1242.00" y="372.40" width="16.00" height="4.00" fill="#000"/>
<rect x="1242.00" y="491.10" width="16.00" height="4.00" fill="#000"/>
<rect x="1242.00" y="609.80" width="16.00" height="4.00" fill="#000"/>
<rect x="1242.00" y="728.50" width="16.00" height="4.00" fill="#000"/>
<rect x="1242.00" y="847.20" width="16.00" height="4.00" fill="#000"/>
<rect x="1250.00" y="76.00" width="8.00" height="4.00" fill="#000"/>
<rect x="1250.00" y="194.70" width="8.00" height="4.00" fill="#000"/>
<rect x="1250.00" y="313.40" width="8.00" height="4.00" fill="#000"/>
<rect x="1250.00" y="432.10" width="8.00" height="4.00" fill="#000"/>
<rect x="1250.00" y="550.80" width="8.00" height="4.00" fill="#000"/>
<rect x="1250.00" y="669.50" width="8.00" height="4.00" fill="#000"/>
<rect x="1250.00" y="788.20" width="8.00" height="4.00" fill="#000"/>
<rect x="1256.20" y="850.00" width="3.60" height="15.00" fill="#000"/>
<rect x="1497.20" y="850.00" width="3.60" height="15.00" fill="#000"/>
<rect x="1738.20" y="850.00" width="3.60" height="15.00" fill="#000"/>
<rect x="1979.20" y="850.00" width="3.60" height="15.00" fill="#000"/>
<rect x="2220.20" y="850.00" width="3.60" height="15.00" fill="#000"/>
<rect x="1376.70" y="850.00" width="3.60" height="8.00" fill="#000"/>
<rect x="1617.70" y="850.00" width="3.60" height="8.00" fill="#000"/>
<rect x="1858.70" y="850.00" width="3.60" height="8.00" fill="#000"/>
<rect x="2099.70" y="850.00" width="3.60" height="8.00" fill="#000"/>
<path d="M1389.0,750.5 L2004.0,752.0" fill="none" stroke="#000" stroke-width="4.80" stroke-linejoin="round" stroke-linecap="round" shape-rendering="crispEdges"/>
<path d="M1258.0,729.0 L1260.4,722.0 L1262.8,719.8 L1265.2,721.6 L1267.6,725.5 L1270.0,733.4 L1272.4,725.3 L1274.8,733.6 L1277.2,724.1 L1279.6,730.7 L1282.0,735.4 L1284.4,734.3 L1286.8,732.3 L1289.2,730.7 L1291.6,728.0 L1294.0,737.4 L1296.4,737.8 L1298.8,736.8 L1301.2,730.3 L1303.6,735.0 L1306.0,737.4 L1308.4,733.0 L1310.8,730.5 L1313.2,736.7 L1315.6,736.6 L1318.0,736.6 L1320.4,737.8 L1322.8,729.9 L1325.2,734.4 L1327.6,736.6 L1330.0,734.6 L1332.4,735.6 L1334.8,740.5 L1337.2,735.1 L1339.6,736.6 L1342.0,726.4 L1344.4,737.2 L1346.8,734.9 L1349.2,743.3 L1351.6,730.6 L1354.0,736.3 L1356.4,750.4 L1358.8,745.9 L1361.2,743.7 L1363.6,740.3 L1366.0,729.9 L1368.4,739.4 L1370.8,736.0 L1373.2,739.8 L1375.6,744.3 L1378.0,740.8 L1380.4,739.4 L1382.8,743.5 L1385.2,749.7 L1387.6,749.6 L1390.0,753.0" fill="none" stroke="#0000ff" stroke-width="7.00" stroke-linejoin="round" stroke-linecap="round" shape-rendering="crispEdges"/>
<path d="M2002.0,744.5 L2004.4,743.3 L2006.8,751.2 L2009.2,758.7 L2011.6,754.1 L2014.0,763.5 L2016.4,763.6 L2018.8,765.8 L2021.2,757.7 L2023.6,757.7 L2026.0,762.1 L2028.4,754.1 L2030.8,755.5 L2033.2,759.7 L2035.6,759.9 L2038.0,756.2 L2040.4,756.9 L2042.8,759.0 L2045.2,757.6 L2047.6,754.0 L2050.0,759.7 L2052.4,756.7 L2054.8,753.1 L2057.2,756.1 L2059.6,765.8 L2062.0,753.9 L2064.4,757.1 L2066.8,749.4 L2069.2,747.5 L2071.6,753.5 L2074.0,753.0 L2076.4,764.0 L2078.8,754.0 L2081.2,759.2 L2083.6,757.4 L2086.0,769.3 L2088.4,765.2 L2090.8,767.7 L2093.2,768.8 L2095.6,764.2 L2098.0,759.4 L2100.4,762.5 L2102.8,757.7 L2105.2,756.8 L2107.6,756.0 L2110.0,765.3 L2112.4,770.3 L2114.8,759.2 L2117.2,755.2 L2119.6,748.4 L2122.0,749.2 L2124.4,744.4 L2126.8,757.4 L2129.2,758.4 L2131.6,751.6 L2134.0,753.3 L2136.4,758.1 L2138.8,764.2 L2141.2,765.6 L2143.6,756.2 L2146.0,755.8 L2148.4,762.8 L2150.8,761.7 L2153.2,760.1 L2155.6,752.8 L2158.0,756.7 L2160.4,758.7 L2162.8,750.2 L2165.2,755.4 L2167.6,760.2 L2170.0,762.7 L2172.4,758.0 L2174.8,751.2 L2177.2,752.4 L2179.6,748.0 L2182.0,750.4 L2184.4,753.8 L2186.8,745.7 L2189.2,749.8 L2191.6,750.2 L2194.0,761.3 L2196.4,756.0 L2198.8,754.5 L2201.2,765.6 L2203.6,760.9 L2206.0,763.6 L2208.4,755.5 L2210.8,765.0 L2213.2,762.7 L2215.6,757.6 L2218.0,760.2 L2220.4,760.5" fill="none" stroke="#0000ff" stroke-width="7.00" stroke-linejoin="round" stroke-linecap="round" shape-rendering="crispEdges"/>
<path d="M1258.0,729.0 L1260.4,722.0 L1262.8,719.8 L1265.2,721.6 L1267.6,725.5 L1270.0,733.4 L1272.4,725.3 L1274.8,733.6 L1277.2,724.1 L1279.6,730.7 L1282.0,735.4 L1284.4,734.3 L1286.8,732.3 L1289.2,730.7 L1291.6,728.0 L1294.0,737.4 L1296.4,737.8 L1298.8,736.8 L1301.2,730.3 L1303.6,735.0 L1306.0,737.4 L1308.4,733.0 L1310.8,730.5 L1313.2,736.7 L1315.6,736.6 L1318.0,736.6 L1320.4,737.8 L1322.8,729.9 L1325.2,734.4 L1327.6,736.6 L1330.0,734.6 L1332.4,735.6 L1334.8,740.5 L1337.2,735.1 L1339.6,736.6 L1342.0,726.4 L1344.4,737.2 L1346.8,734.9 L1349.2,743.3 L1351.6,730.6 L1354.0,736.3 L1356.4,750.4 L1358.8,745.9 L1361.2,743.7 L1363.6,740.3 L1366.0,729.9 L1368.4,739.4 L1370.8,736.0 L1373.2,739.8 L1375.6,744.3 L1378.0,740.8 L1380.4,739.4 L1382.8,743.5 L1385.2,749.7 L1387.6,749.6 L1390.0,753.0" fill="none" stroke="#ff0000" stroke-width="7.00" stroke-linejoin="round" stroke-linecap="round" shape-rendering="crispEdges"/>
<path d="M2002.0,744.5 L2004.4,743.3 L2006.8,751.2 L2009.2,758.7 L2011.6,754.1 L2014.0,763.5 L2016.4,763.6 L2018.8,765.8 L2021.2,757.7 L2023.6,757.7 L2026.0,762.1 L2028.4,754.1 L2030.8,755.5 L2033.2,759.7 L2035.6,759.9 L2038.0,756.2 L2040.4,756.9 L2042.8,759.0 L2045.2,757.6 L2047.6,754.0 L2050.0,759.7 L2052.4,756.7 L2054.8,753.1 L2057.2,756.1 L2059.6,765.8 L2062.0,753.9 L2064.4,757.1 L2066.8,749.4 L2069.2,747.5 L2071.6,753.5 L2074.0,753.0 L2076.4,764.0 L2078.8,754.0 L2081.2,759.2 L2083.6,757.4 L2086.0,769.3 L2088.4,765.2 L2090.8,767.7 L2093.2,768.8 L2095.6,764.2 L2098.0,759.4 L2100.4,762.5 L2102.8,757.7 L2105.2,756.8 L2107.6,756.0 L2110.0,765.3 L2112.4,770.3 L2114.8,759.2 L2117.2,755.2 L2119.6,748.4 L2122.0,749.2 L2124.4,744.4 L2126.8,757.4 L2129.2,758.4 L2131.6,751.6 L2134.0,753.3 L2136.4,758.1 L2138.8,764.2 L2141.2,765.6 L2143.6,756.2 L2146.0,755.8 L2148.4,762.8 L2150.8,761.7 L2153.2,760.1 L2155.6,752.8 L2158.0,756.7 L2160.4,758.7 L2162.8,750.2 L2165.2,755.4 L2167.6,760.2 L2170.0,762.7 L2172.4,758.0 L2174.8,751.2 L2177.2,752.4 L2179.6,748.0 L2182.0,750.4 L2184.4,753.8 L2186.8,745.7 L2189.2,749.8 L2191.6,750.2 L2194.0,761.3 L2196.4,756.0 L2198.8,754.5 L2201.2,765.6 L2203.6,760.9 L2206.0,763.6 L2208.4,755.5 L2210.8,765.0 L2213.2,762.7 L2215.6,757.6 L2218.0,760.2 L2220.4,760.5" fill="none" stroke="#ff0000" stroke-width="7.00" stroke-linejoin="round" stroke-linecap="round" shape-rendering="crispEdges"/>
<path d="M1389.0,750.5 L1390.5,750.5 L1392.0,750.5 L1393.5,750.5 L1395.0,750.5 L1396.5,750.5 L1398.0,750.5 L1399.5,750.5 L1401.0,750.5 L1402.5,750.5 L1404.0,750.5 L1405.5,750.5 L1407.0,750.5 L1408.5,750.5 L1410.0,750.5 L1411.5,750.5 L1413.0,750.5 L1414.5,750.5 L1416.0,750.5 L1417.5,750.5 L1419.0,750.5 L1420.5,750.5 L1422.0,750.5 L1423.5,750.5 L1425.0,750.5 L1426.5,750.5 L1428.0,750.5 L1429.5,750.5 L1431.0,750.5 L1432.5,750.5 L1434.0,750.5 L1435.5,750.5 L1437.0,750.5 L1438.5,750.5 L1440.0,750.5 L1441.5,750.5 L1443.0,750.5 L1444.5,750.5 L1446.0,750.5 L1447.5,750.5 L1449.0,750.5 L1450.5,750.5 L1452.0,750.5 L1453.5,750.5 L1455.0,750.4 L1456.5,750.4 L1458.0,750.4 L1459.5,750.4 L1461.0,750.4 L1462.5,750.4 L1464.0,750.3 L1465.5,750.3 L1467.0,750.3 L1468.5,750.3 L1470.0,750.2 L1471.5,750.2 L1473.0,750.2 L1474.5,750.1 L1476.0,750.1 L1477.5,750.0 L1479.0,750.0 L1480.5,749.9 L1482.0,749.9 L1483.5,749.8 L1485.0,749.8 L1486.5,749.7 L1488.0,749.6 L1489.5,749.5 L1491.0,749.5 L1492.5,749.4 L1494.0,749.3 L1495.5,749.2 L1497.0,749.1 L1498.5,748.9 L1500.0,748.8 L1501.5,748.7 L1503.0,748.5 L1504.5,748.4 L1506.0,748.2 L1507.5,748.1 L1509.0,747.9 L1510.5,747.7 L1512.0,747.5 L1513.5,747.3 L1515.0,747.0 L1516.5,746.8 L1518.0,746.5 L1519.5,746.3 L1521.0,746.0 L1522.5,745.7 L1524.0,745.3 L1525.5,745.0 L1527.0,744.6 L1528.5,744.2 L1530.0,743.8 L1531.5,743.4 L1533.0,742.9 L1534.5,742.5 L1536.0,742.0 L1537.5,741.4 L1539.0,740.9 L1540.5,740.3 L1542.0,739.6 L1543.5,739.0 L1545.0,738.3 L1546.5,737.6 L1548.0,736.8 L1549.5,736.0 L1551.0,735.2 L1552.5,734.3 L1554.0,733.4 L1555.5,732.4 L1557.0,731.4 L1558.5,730.3 L1560.0,729.2 L1561.5,728.0 L1563.0,726.8 L1564.5,725.5 L1566.0,724.2 L1567.5,722.7 L1569.0,721.3 L1570.5,719.8 L1572.0,718.2 L1573.5,716.5 L1575.0,714.8 L1576.5,713.0 L1578.0,711.1 L1579.5,709.1 L1581.0,707.1 L1582.5,705.0 L1584.0,702.8 L1585.5,700.5 L1587.0,698.1 L1588.5,695.6 L1590.0,693.1 L1591.5,690.4 L1593.0,687.7 L1594.5,684.8 L1596.0,681.9 L1597.5,678.8 L1599.0,675.6 L1600.5,672.4 L1602.0,669.0 L1603.5,665.5 L1605.0,661.9 L1606.5,658.2 L1608.0,654.4 L1609.5,650.5 L1611.0,646.4 L1612.5,642.3 L1614.0,638.0 L1615.5,633.6 L1617.0,629.1 L1618.5,624.5 L1620.0,619.7 L1621.5,614.8 L1623.0,609.9 L1624.5,604.8 L1626.0,599.5 L1627.5,594.2 L1629.0,588.8 L1630.5,583.2 L1632.0,577.6 L1633.5,571.8 L1635.0,565.9 L1636.5,559.9 L1638.0,553.9 L1639.5,547.7 L1641.0,541.4 L1642.5,535.1 L1644.0,528.7 L1645.5,522.2 L1647.0,515.6 L1648.5,509.0 L1650.0,502.3 L1651.5,495.5 L1653.0,488.7 L1654.5,481.9 L1656.0,475.0 L1657.5,468.2 L1659.0,461.3 L1660.5,454.4 L1662.0,447.4 L1663.5,440.5 L1665.0,433.7 L1666.5,426.8 L1668.0,420.0 L1669.5,413.3 L1671.0,406.6 L1672.5,400.0 L1674.0,393.4 L1675.5,387.0 L1677.0,380.6 L1678.5,374.4 L1680.0,368.3 L1681.5,362.3 L1683.0,356.5 L1684.5,350.8 L1686.0,345.3 L1687.5,340.0 L1689.0,334.9 L1690.5,329.9 L1692.0,325.2 L1693.5,320.7 L1695.0,316.4 L1696.5,312.4 L1698.0,308.6 L1699.5,305.1 L1701.0,301.8 L1702.5,298.8 L1704.0,296.1 L1705.5,293.6 L1707.0,291.5 L1708.5,289.6 L1710.0,288.0 L1711.5,286.7 L1713.0,285.8 L1714.5,285.1 L1716.0,284.8 L1717.5,284.7 L1719.0,285.0 L1720.5,285.5 L1722.0,286.4 L1723.5,287.6 L1725.0,289.1 L1726.5,290.8 L1728.0,292.9 L1729.5,295.3 L1731.0,297.9 L1732.5,300.8 L1734.0,304.0 L1735.5,307.5 L1737.0,311.2 L1738.5,315.2 L1740.0,319.4 L1741.5,323.8 L1743.0,328.5 L1744.5,333.3 L1746.0,338.4 L1747.5,343.7 L1749.0,349.1 L1750.5,354.7 L1752.0,360.5 L1753.5,366.4 L1755.0,372.5 L1756.5,378.7 L1758.0,385.0 L1759.5,391.5 L1761.0,398.0 L1762.5,404.6 L1764.0,411.3 L1765.5,418.0 L1767.0,424.8 L1768.5,431.6 L1770.0,438.5 L1771.5,445.4 L1773.0,452.3 L1774.5,459.2 L1776.0,466.1 L1777.5,473.0 L1779.0,479.9 L1780.5,486.8 L1782.0,493.6 L1783.5,500.4 L1785.0,507.1 L1786.5,513.7 L1788.0,520.3 L1789.5,526.9 L1791.0,533.3 L1792.5,539.7 L1794.0,546.0 L1795.5,552.2 L1797.0,558.3 L1798.5,564.3 L1800.0,570.2 L1801.5,576.1 L1803.0,581.8 L1804.5,587.4 L1806.0,592.9 L1807.5,598.2 L1809.0,603.5 L1810.5,608.6 L1812.0,613.7 L1813.5,618.6 L1815.0,623.4 L1816.5,628.1 L1818.0,632.6 L1819.5,637.1 L1821.0,641.4 L1822.5,645.6 L1824.0,649.7 L1825.5,653.7 L1827.0,657.5 L1828.5,661.3 L1830.0,664.9 L1831.5,668.4 L1833.0,671.8 L1834.5,675.1 L1836.0,678.3 L1837.5,681.4 L1839.0,684.4 L1840.5,687.3 L1842.0,690.1 L1843.5,692.8 L1845.0,695.4 L1846.5,697.9 L1848.0,700.3 L1849.5,702.6 L1851.0,704.9 L1852.5,707.0 L1854.0,709.1 L1855.5,711.1 L1857.0,713.0 L1858.5,714.9 L1860.0,716.6 L1861.5,718.3 L1863.0,719.9 L1864.5,721.5 L1866.0,723.0 L1867.5,724.4 L1869.0,725.8 L1870.5,727.1 L1872.0,728.4 L1873.5,729.6 L1875.0,730.7 L1876.5,731.8 L1878.0,732.8 L1879.5,733.8 L1881.0,734.8 L1882.5,735.7 L1884.0,736.5 L1885.5,737.4 L1887.0,738.2 L1888.5,738.9 L1890.0,739.6 L1891.5,740.3 L1893.0,740.9 L1894.5,741.5 L1896.0,742.1 L1897.5,742.7 L1899.0,743.2 L1900.5,743.7 L1902.0,744.2 L1903.5,744.6 L1905.0,745.0 L1906.5,745.4 L1908.0,745.8 L1909.5,746.2 L1911.0,746.5 L1912.5,746.8 L1914.0,747.1 L1915.5,747.4 L1917.0,747.7 L1918.5,747.9 L1920.0,748.2 L1921.5,748.4 L1923.0,748.6 L1924.5,748.8 L1926.0,749.0 L1927.5,749.2 L1929.0,749.4 L1930.5,749.5 L1932.0,749.7 L1933.5,749.8 L1935.0,750.0 L1936.5,750.1 L1938.0,750.2 L1939.5,750.3 L1941.0,750.4 L1942.5,750.5 L1944.0,750.6 L1945.5,750.7 L1947.0,750.8 L1948.5,750.9 L1950.0,750.9 L1951.5,751.0 L1953.0,751.1 L1954.5,751.1 L1956.0,751.2 L1957.5,751.2 L1959.0,751.3 L1960.5,751.3 L1962.0,751.4 L1963.5,751.4 L1965.0,751.5 L1966.5,751.5 L1968.0,751.5 L1969.5,751.6 L1971.0,751.6 L1972.5,751.6 L1974.0,751.6 L1975.5,751.7 L1977.0,751.7 L1978.5,751.7 L1980.0,751.7 L1981.5,751.8 L1983.0,751.8 L1984.5,751.8 L1986.0,751.8 L1987.5,751.8 L1989.0,751.8 L1990.5,751.8 L1992.0,751.9 L1993.5,751.9 L1995.0,751.9 L1996.5,751.9 L1998.0,751.9 L1999.5,751.9 L2001.0,751.9 L2002.5,751.9 L2004.0,751.9" fill="none" stroke="#0000ff" stroke-width="6.00" stroke-linejoin="round" stroke-linecap="round" shape-rendering="crispEdges"/>
<path d="M1389.0,750.3 L1390.5,750.3 L1392.0,750.3 L1393.5,750.3 L1395.0,750.3 L1396.5,750.3 L1398.0,750.3 L1399.5,750.3 L1401.0,750.2 L1402.5,750.2 L1404.0,750.2 L1405.5,750.2 L1407.0,750.1 L1408.5,750.1 L1410.0,750.1 L1411.5,750.1 L1413.0,750.0 L1414.5,750.0 L1416.0,749.9 L1417.5,749.9 L1419.0,749.8 L1420.5,749.8 L1422.0,749.7 L1423.5,749.7 L1425.0,749.6 L1426.5,749.5 L1428.0,749.5 L1429.5,749.4 L1431.0,749.3 L1432.5,749.2 L1434.0,749.1 L1435.5,749.0 L1437.0,748.9 L1438.5,748.7 L1440.0,748.6 L1441.5,748.5 L1443.0,748.3 L1444.5,748.2 L1446.0,748.0 L1447.5,747.8 L1449.0,747.6 L1450.5,747.4 L1452.0,747.2 L1453.5,747.0 L1455.0,746.7 L1456.5,746.4 L1458.0,746.2 L1459.5,745.9 L1461.0,745.6 L1462.5,745.2 L1464.0,744.9 L1465.5,744.5 L1467.0,744.1 L1468.5,743.7 L1470.0,743.2 L1471.5,742.8 L1473.0,742.3 L1474.5,741.7 L1476.0,741.2 L1477.5,740.6 L1479.0,740.0 L1480.5,739.3 L1482.0,738.6 L1483.5,737.9 L1485.0,737.2 L1486.5,736.4 L1488.0,735.5 L1489.5,734.6 L1491.0,733.7 L1492.5,732.7 L1494.0,731.7 L1495.5,730.6 L1497.0,729.5 L1498.5,728.3 L1500.0,727.0 L1501.5,725.7 L1503.0,724.4 L1504.5,722.9 L1506.0,721.4 L1507.5,719.9 L1509.0,718.2 L1510.5,716.5 L1512.0,714.7 L1513.5,712.9 L1515.0,710.9 L1516.5,708.9 L1518.0,706.8 L1519.5,704.6 L1521.0,702.3 L1522.5,699.9 L1524.0,697.4 L1525.5,694.8 L1527.0,692.2 L1528.5,689.4 L1530.0,686.5 L1531.5,683.5 L1533.0,680.4 L1534.5,677.2 L1536.0,673.9 L1537.5,670.5 L1539.0,666.9 L1540.5,663.3 L1542.0,659.5 L1543.5,655.6 L1545.0,651.6 L1546.5,647.5 L1548.0,643.3 L1549.5,638.9 L1551.0,634.4 L1552.5,629.8 L1554.0,625.1 L1555.5,620.3 L1557.0,615.4 L1558.5,610.4 L1560.0,605.2 L1561.5,600.0 L1563.0,594.7 L1564.5,589.2 L1566.0,583.7 L1567.5,578.1 L1569.0,572.5 L1570.5,566.7 L1572.0,560.9 L1573.5,555.1 L1575.0,549.2 L1576.5,543.3 L1578.0,537.3 L1579.5,531.4 L1581.0,525.4 L1582.5,519.5 L1584.0,513.6 L1585.5,507.7 L1587.0,501.9 L1588.5,496.1 L1590.0,490.5 L1591.5,484.9 L1593.0,479.4 L1594.5,474.1 L1596.0,468.9 L1597.5,463.9 L1599.0,459.0 L1600.5,454.3 L1602.0,449.9 L1603.5,445.6 L1605.0,441.6 L1606.5,437.9 L1608.0,434.4 L1609.5,431.2 L1611.0,428.3 L1612.5,425.7 L1614.0,423.4 L1615.5,421.4 L1617.0,419.7 L1618.5,418.4 L1620.0,417.4 L1621.5,416.8 L1623.0,416.5 L1624.5,416.6 L1626.0,417.0 L1627.5,417.7 L1629.0,418.8 L1630.5,420.3 L1632.0,422.1 L1633.5,424.2 L1635.0,426.6 L1636.5,429.3 L1638.0,432.3 L1639.5,435.6 L1641.0,439.2 L1642.5,443.0 L1644.0,447.1 L1645.5,451.4 L1647.0,456.0 L1648.5,460.7 L1650.0,465.6 L1651.5,470.7 L1653.0,476.0 L1654.5,481.4 L1656.0,486.9 L1657.5,492.5 L1659.0,498.2 L1660.5,504.0 L1662.0,509.8 L1663.5,515.7 L1665.0,521.7 L1666.5,527.6 L1668.0,533.6 L1669.5,539.5 L1671.0,545.5 L1672.5,551.4 L1674.0,557.3 L1675.5,563.1 L1677.0,568.9 L1678.5,574.6 L1680.0,580.3 L1681.5,585.8 L1683.0,591.3 L1684.5,596.7 L1686.0,602.0 L1687.5,607.3 L1689.0,612.4 L1690.5,617.4 L1692.0,622.3 L1693.5,627.1 L1695.0,631.7 L1696.5,636.3 L1698.0,640.7 L1699.5,645.1 L1701.0,649.3 L1702.5,653.4 L1704.0,657.3 L1705.5,661.2 L1707.0,664.9 L1708.5,668.6 L1710.0,672.1 L1711.5,675.5 L1713.0,678.7 L1714.5,681.9 L1716.0,685.0 L1717.5,687.9 L1719.0,690.8 L1720.5,693.5 L1722.0,696.2 L1723.5,698.7 L1725.0,701.2 L1726.5,703.6 L1728.0,705.8 L1729.5,708.0 L1731.0,710.1 L1732.5,712.1 L1734.0,714.0 L1735.5,715.9 L1737.0,717.6 L1738.5,719.3 L1740.0,721.0 L1741.5,722.5 L1743.0,724.0 L1744.5,725.4 L1746.0,726.8 L1747.5,728.1 L1749.0,729.3 L1750.5,730.5 L1752.0,731.6 L1753.5,732.7 L1755.0,733.7 L1756.5,734.7 L1758.0,735.6 L1759.5,736.5 L1761.0,737.3 L1762.5,738.1 L1764.0,738.9 L1765.5,739.6 L1767.0,740.3 L1768.5,740.9 L1770.0,741.5 L1771.5,742.1 L1773.0,742.6 L1774.5,743.2 L1776.0,743.7 L1777.5,744.1 L1779.0,744.6 L1780.5,745.0 L1782.0,745.4 L1783.5,745.8 L1785.0,746.1 L1786.5,746.5 L1788.0,746.8 L1789.5,747.1 L1791.0,747.4 L1792.5,747.6 L1794.0,747.9 L1795.5,748.1 L1797.0,748.3 L1798.5,748.5 L1800.0,748.7 L1801.5,748.9 L1803.0,749.1 L1804.5,749.3 L1806.0,749.4 L1807.5,749.6 L1809.0,749.7 L1810.5,749.8 L1812.0,749.9 L1813.5,750.1 L1815.0,750.2 L1816.5,750.3 L1818.0,750.3 L1819.5,750.4 L1821.0,750.5 L1822.5,750.6 L1824.0,750.7 L1825.5,750.7 L1827.0,750.8 L1828.5,750.9 L1830.0,750.9 L1831.5,751.0 L1833.0,751.0 L1834.5,751.1 L1836.0,751.1 L1837.5,751.1 L1839.0,751.2 L1840.5,751.2 L1842.0,751.2 L1843.5,751.3 L1845.0,751.3 L1846.5,751.3 L1848.0,751.4 L1849.5,751.4 L1851.0,751.4 L1852.5,751.4 L1854.0,751.4 L1855.5,751.5 L1857.0,751.5 L1858.5,751.5 L1860.0,751.5 L1861.5,751.5 L1863.0,751.5 L1864.5,751.6 L1866.0,751.6 L1867.5,751.6 L1869.0,751.6 L1870.5,751.6 L1872.0,751.6 L1873.5,751.6 L1875.0,751.6 L1876.5,751.6 L1878.0,751.6 L1879.5,751.7 L1881.0,751.7 L1882.5,751.7 L1884.0,751.7 L1885.5,751.7 L1887.0,751.7 L1888.5,751.7 L1890.0,751.7 L1891.5,751.7 L1893.0,751.7 L1894.5,751.7 L1896.0,751.7 L1897.5,751.7 L1899.0,751.7 L1900.5,751.7 L1902.0,751.7 L1903.5,751.7 L1905.0,751.7 L1906.5,751.8 L1908.0,751.8 L1909.5,751.8 L1911.0,751.8 L1912.5,751.8 L1914.0,751.8 L1915.5,751.8 L1917.0,751.8 L1918.5,751.8 L1920.0,751.8 L1921.5,751.8 L1923.0,751.8 L1924.5,751.8 L1926.0,751.8 L1927.5,751.8 L1929.0,751.8 L1930.5,751.8 L1932.0,751.8 L1933.5,751.8 L1935.0,751.8 L1936.5,751.8 L1938.0,751.8 L1939.5,751.8 L1941.0,751.8 L1942.5,751.8 L1944.0,751.9 L1945.5,751.9 L1947.0,751.9 L1948.5,751.9 L1950.0,751.9 L1951.5,751.9 L1953.0,751.9 L1954.5,751.9 L1956.0,751.9 L1957.5,751.9 L1959.0,751.9 L1960.5,751.9 L1962.0,751.9 L1963.5,751.9 L1965.0,751.9 L1966.5,751.9 L1968.0,751.9 L1969.5,751.9 L1971.0,751.9 L1972.5,751.9 L1974.0,751.9 L1975.5,751.9 L1977.0,751.9 L1978.5,751.9 L1980.0,751.9 L1981.5,751.9 L1983.0,751.9 L1984.5,752.0 L1986.0,752.0 L1987.5,752.0 L1989.0,752.0 L1990.5,752.0 L1992.0,752.0 L1993.5,752.0 L1995.0,752.0 L1996.5,752.0 L1998.0,752.0 L1999.5,752.0 L2001.0,752.0 L2002.5,752.0 L2004.0,752.0" fill="none" stroke="#ff0000" stroke-width="6.00" stroke-linejoin="round" stroke-linecap="round" shape-rendering="crispEdges"/>
<path d="M1258.0,729.0 L1260.4,722.0 L1262.8,719.8 L1265.2,721.6 L1267.6,725.5 L1270.0,733.4 L1272.4,725.3 L1274.8,733.6 L1277.2,724.1 L1279.6,730.7 L1282.0,735.4 L1284.4,734.3 L1286.8,732.3 L1289.2,730.7 L1291.6,728.0 L1294.0,737.4 L1296.4,737.8 L1298.8,736.8 L1301.2,730.3 L1303.6,735.0 L1306.0,737.4 L1308.4,733.0 L1310.8,730.5 L1313.2,736.7 L1315.6,736.6 L1318.0,736.6 L1320.4,737.8 L1322.8,729.9 L1325.2,734.4 L1327.6,736.6 L1330.0,734.6 L1332.4,735.6 L1334.8,740.5 L1337.2,735.1 L1339.6,736.6 L1342.0,726.4 L1344.4,737.2 L1346.8,734.9 L1349.2,743.3 L1351.6,730.6 L1354.0,736.3 L1356.4,750.4 L1358.8,745.9 L1361.2,743.7 L1363.6,740.3 L1366.0,729.9 L1368.4,739.4 L1370.8,736.0 L1373.2,739.8 L1375.6,744.3 L1378.0,740.8 L1380.4,739.4 L1382.8,743.5 L1385.2,749.7 L1387.6,749.6 L1390.0,753.0 L1392.4,754.1 L1394.8,753.5 L1397.2,754.2 L1399.6,746.9 L1402.0,747.6 L1404.4,750.9 L1406.8,742.6 L1409.2,750.8 L1411.6,752.4 L1414.0,752.0 L1416.4,751.2 L1418.8,756.2 L1421.2,755.8 L1423.6,748.7 L1426.0,747.0 L1428.4,749.6 L1430.8,759.0 L1433.2,759.3 L1435.6,753.9 L1438.0,748.8 L1440.4,748.7 L1442.8,751.9 L1445.2,749.2 L1447.6,747.1 L1450.0,740.3 L1452.4,744.7 L1454.8,747.3 L1457.2,739.4 L1459.6,754.3 L1462.0,746.4 L1464.4,743.5 L1466.8,736.5 L1469.2,738.2 L1471.6,751.0 L1474.0,739.6 L1476.4,733.7 L1478.8,747.8 L1481.2,753.4 L1483.6,736.3 L1486.0,723.7 L1488.4,729.2 L1490.8,730.5 L1493.2,738.4 L1495.6,743.5 L1498.0,735.3 L1500.4,733.0 L1502.8,726.0 L1505.2,721.3 L1507.6,722.9 L1510.0,725.1 L1512.4,723.8 L1514.8,712.7 L1517.2,707.5 L1519.6,698.7 L1522.0,686.8 L1524.4,686.3 L1526.8,683.3 L1529.2,678.2 L1531.6,675.8 L1534.0,663.2 L1536.4,662.0 L1538.8,656.0 L1541.2,638.8 L1543.6,632.2 L1546.0,624.9 L1548.4,613.6 L1550.8,610.8 L1553.2,599.7 L1555.6,607.0 L1558.0,587.3 L1560.4,570.1 L1562.8,557.8 L1565.2,559.8 L1567.6,543.6 L1570.0,532.6 L1572.4,514.8 L1574.8,507.2 L1577.2,494.7 L1579.6,494.2 L1582.0,475.7 L1584.4,472.1 L1586.8,452.6 L1589.2,437.4 L1591.6,434.3 L1594.0,408.8 L1596.4,402.5 L1598.8,389.1 L1601.2,380.5 L1603.6,359.1 L1606.0,346.2 L1608.4,321.1 L1610.8,311.8 L1613.2,298.8 L1615.6,300.7 L1618.0,287.4 L1620.4,285.6 L1622.8,282.6 L1625.2,266.9 L1627.6,263.9 L1630.0,249.1 L1632.4,230.4 L1634.8,231.6 L1637.2,226.9 L1639.6,225.7 L1642.0,221.3 L1644.4,229.3 L1646.8,216.7 L1649.2,211.5 L1651.6,214.4 L1654.0,202.8 L1656.4,213.1 L1658.8,206.1 L1661.2,197.1 L1663.6,199.6 L1666.0,195.2 L1668.4,203.1 L1670.8,207.2 L1673.2,203.3 L1675.6,189.8 L1678.0,187.1 L1680.4,198.1 L1682.8,203.4 L1685.2,195.7 L1687.6,200.0 L1690.0,190.3 L1692.4,197.5 L1694.8,199.3 L1697.2,193.7 L1699.6,194.6 L1702.0,200.3 L1704.4,196.9 L1706.8,197.3 L1709.2,207.5 L1711.6,208.0 L1714.0,205.0 L1716.4,212.8 L1718.8,212.0 L1721.2,223.7 L1723.6,230.5 L1726.0,237.4 L1728.4,239.5 L1730.8,248.9 L1733.2,255.3 L1735.6,271.3 L1738.0,271.9 L1740.4,277.7 L1742.8,304.5 L1745.2,294.9 L1747.6,318.1 L1750.0,317.3 L1752.4,340.3 L1754.8,345.3 L1757.2,362.8 L1759.6,377.3 L1762.0,392.0 L1764.4,407.2 L1766.8,414.0 L1769.2,430.4 L1771.6,433.9 L1774.0,443.1 L1776.4,452.4 L1778.8,464.0 L1781.2,481.2 L1783.6,485.6 L1786.0,489.8 L1788.4,512.6 L1790.8,530.5 L1793.2,547.5 L1795.6,553.4 L1798.0,566.7 L1800.4,573.9 L1802.8,582.4 L1805.2,578.7 L1807.6,595.1 L1810.0,602.9 L1812.4,604.1 L1814.8,617.4 L1817.2,623.7 L1819.6,639.9 L1822.0,645.4 L1824.4,660.0 L1826.8,653.6 L1829.2,656.7 L1831.6,663.4 L1834.0,665.7 L1836.4,677.5 L1838.8,683.8 L1841.2,692.0 L1843.6,694.7 L1846.0,693.8 L1848.4,700.8 L1850.8,699.9 L1853.2,705.3 L1855.6,702.5 L1858.0,706.5 L1860.4,708.1 L1862.8,711.5 L1865.2,716.7 L1867.6,726.9 L1870.0,722.6 L1872.4,725.0 L1874.8,724.6 L1877.2,730.1 L1879.6,730.5 L1882.0,731.5 L1884.4,727.3 L1886.8,731.6 L1889.2,740.4 L1891.6,729.0 L1894.0,732.5 L1896.4,736.5 L1898.8,743.3 L1901.2,734.9 L1903.6,736.8 L1906.0,731.1 L1908.4,746.1 L1910.8,732.7 L1913.2,739.1 L1915.6,744.0 L1918.0,737.6 L1920.4,742.8 L1922.8,745.3 L1925.2,742.0 L1927.6,743.8 L1930.0,750.1 L1932.4,746.2 L1934.8,745.2 L1937.2,743.2 L1939.6,745.9 L1942.0,750.1 L1944.4,749.1 L1946.8,751.5 L1949.2,760.6 L1951.6,749.4 L1954.0,749.7 L1956.4,754.4 L1958.8,750.9 L1961.2,752.0 L1963.6,753.9 L1966.0,751.7 L1968.4,751.3 L1970.8,754.7 L1973.2,754.8 L1975.6,752.8 L1978.0,750.9 L1980.4,755.1 L1982.8,751.0 L1985.2,746.3 L1987.6,754.0 L1990.0,752.6 L1992.4,752.1 L1994.8,755.0 L1997.2,748.3 L1999.6,748.8 L2002.0,744.5 L2004.4,743.3 L2006.8,751.2 L2009.2,758.7 L2011.6,754.1 L2014.0,763.5 L2016.4,763.6 L2018.8,765.8 L2021.2,757.7 L2023.6,757.7 L2026.0,762.1 L2028.4,754.1 L2030.8,755.5 L2033.2,759.7 L2035.6,759.9 L2038.0,756.2 L2040.4,756.9 L2042.8,759.0 L2045.2,757.6 L2047.6,754.0 L2050.0,759.7 L2052.4,756.7 L2054.8,753.1 L2057.2,756.1 L2059.6,765.8 L2062.0,753.9 L2064.4,757.1 L2066.8,749.4 L2069.2,747.5 L2071.6,753.5 L2074.0,753.0 L2076.4,764.0 L2078.8,754.0 L2081.2,759.2 L2083.6,757.4 L2086.0,769.3 L2088.4,765.2 L2090.8,767.7 L2093.2,768.8 L2095.6,764.2 L2098.0,759.4 L2100.4,762.5 L2102.8,757.7 L2105.2,756.8 L2107.6,756.0 L2110.0,765.3 L2112.4,770.3 L2114.8,759.2 L2117.2,755.2 L2119.6,748.4 L2122.0,749.2 L2124.4,744.4 L2126.8,757.4 L2129.2,758.4 L2131.6,751.6 L2134.0,753.3 L2136.4,758.1 L2138.8,764.2 L2141.2,765.6 L2143.6,756.2 L2146.0,755.8 L2148.4,762.8 L2150.8,761.7 L2153.2,760.1 L2155.6,752.8 L2158.0,756.7 L2160.4,758.7 L2162.8,750.2 L2165.2,755.4 L2167.6,760.2 L2170.0,762.7 L2172.4,758.0 L2174.8,751.2 L2177.2,752.4 L2179.6,748.0 L2182.0,750.4 L2184.4,753.8 L2186.8,745.7 L2189.2,749.8 L2191.6,750.2 L2194.0,761.3 L2196.4,756.0 L2198.8,754.5 L2201.2,765.6 L2203.6,760.9 L2206.0,763.6 L2208.4,755.5 L2210.8,765.0 L2213.2,762.7 L2215.6,757.6 L2218.0,760.2 L2220.4,760.5" fill="none" stroke="#000" stroke-width="5.00" stroke-linejoin="round" stroke-linecap="round" shape-rendering="crispEdges"/>
<rect x="1260.00" y="1047.00" width="4.00" height="778.20" fill="#000"/>
<rect x="1260.00" y="1822.00" width="968.00" height="3.20" fill="#000"/>
<rect x="1246.00" y="1049.00" width="16.00" height="4.00" fill="#000"/>
<rect x="1246.00" y="1153.30" width="16.00" height="4.00" fill="#000"/>
<rect x="1246.00" y="1257.60" width="16.00" height="4.00" fill="#000"/>
<rect x="1246.00" y="1361.90" width="16.00" height="4.00" fill="#000"/>
<rect x="1246.00" y="1466.20" width="16.00" height="4.00" fill="#000"/>
<rect x="1246.00" y="1570.50" width="16.00" height="4.00" fill="#000"/>
<rect x="1246.00" y="1674.80" width="16.00" height="4.00" fill="#000"/>
<rect x="1246.00" y="1779.10" width="16.00" height="4.00" fill="#000"/>
<rect x="1254.00" y="1101.20" width="8.00" height="4.00" fill="#000"/>
<rect x="1254.00" y="1205.50" width="8.00" height="4.00" fill="#000"/>
<rect x="1254.00" y="1309.80" width="8.00" height="4.00" fill="#000"/>
<rect x="1254.00" y="1414.10" width="8.00" height="4.00" fill="#000"/>
<rect x="1254.00" y="1518.40" width="8.00" height="4.00" fill="#000"/>
<rect x="1254.00" y="1622.70" width="8.00" height="4.00" fill="#000"/>
<rect x="1254.00" y="1727.00" width="8.00" height="4.00" fill="#000"/>
<rect x="1260.20" y="1823.60" width="3.60" height="15.20" fill="#000"/>
<rect x="1501.20" y="1823.60" width="3.60" height="15.20" fill="#000"/>
<rect x="1742.20" y="1823.60" width="3.60" height="15.20" fill="#000"/>
<rect x="1983.20" y="1823.60" width="3.60" height="15.20" fill="#000"/>
<rect x="2224.20" y="1823.60" width="3.60" height="15.20" fill="#000"/>
<rect x="1380.70" y="1823.60" width="3.60" height="7.40" fill="#000"/>
<rect x="1621.70" y="1823.60" width="3.60" height="7.40" fill="#000"/>
<rect x="1862.70" y="1823.60" width="3.60" height="7.40" fill="#000"/>
<rect x="2103.70" y="1823.60" width="3.60" height="7.40" fill="#000"/>
<path d="M1437.6,1719.2 L1992.7,1727.6" fill="none" stroke="#000" stroke-width="4.80" stroke-linejoin="round" stroke-linecap="round" shape-rendering="crispEdges"/>
<path d="M1262.0,1700.4 L1264.4,1701.4 L1266.8,1692.7 L1269.2,1696.6 L1271.6,1693.2 L1274.0,1695.0 L1276.4,1696.1 L1278.8,1686.5 L1281.2,1692.3 L1283.6,1697.5 L1286.0,1696.0 L1288.4,1692.5 L1290.8,1693.4 L1293.2,1689.4 L1295.6,1693.4 L1298.0,1687.8 L1300.4,1697.0 L1302.8,1700.4 L1305.2,1707.4 L1307.6,1705.5 L1310.0,1702.4 L1312.4,1700.3 L1314.8,1700.6 L1317.2,1696.3 L1319.6,1707.1 L1322.0,1703.4 L1324.4,1699.1 L1326.8,1712.6 L1329.2,1705.1 L1331.6,1682.7 L1334.0,1697.7 L1336.4,1703.3 L1338.8,1706.7 L1341.2,1711.2 L1343.6,1710.8 L1346.0,1705.4 L1348.4,1698.7 L1350.8,1707.0 L1353.2,1712.2 L1355.6,1709.3 L1358.0,1717.0 L1360.4,1702.5 L1362.8,1703.4 L1365.2,1706.2 L1367.6,1704.5 L1370.0,1717.5 L1372.4,1707.0 L1374.8,1713.6 L1377.2,1707.6 L1379.6,1712.2 L1382.0,1713.9 L1384.4,1712.8 L1386.8,1715.3 L1389.2,1715.0 L1391.6,1721.5 L1394.0,1723.1 L1396.4,1717.5 L1398.8,1722.3 L1401.2,1725.2 L1403.6,1726.5 L1406.0,1731.5 L1408.4,1727.8 L1410.8,1706.2 L1413.2,1709.8 L1415.6,1721.6 L1418.0,1724.8 L1420.4,1721.4 L1422.8,1720.7 L1425.2,1718.9 L1427.6,1722.4 L1430.0,1714.1 L1432.4,1717.4 L1434.8,1723.2 L1437.2,1724.3 L1439.6,1717.3" fill="none" stroke="#ff00ff" stroke-width="7.00" stroke-linejoin="round" stroke-linecap="round" shape-rendering="crispEdges"/>
<path d="M1991.6,1723.8 L1994.0,1725.7 L1996.4,1735.1 L1998.8,1731.6 L2001.2,1731.2 L2003.6,1721.4 L2006.0,1724.2 L2008.4,1727.2 L2010.8,1726.4 L2013.2,1726.5 L2015.6,1724.9 L2018.0,1730.4 L2020.4,1732.4 L2022.8,1723.2 L2025.2,1709.0 L2027.6,1717.6 L2030.0,1716.5 L2032.4,1726.0 L2034.8,1732.2 L2037.2,1728.3 L2039.6,1718.6 L2042.0,1728.1 L2044.4,1725.9 L2046.8,1731.6 L2049.2,1727.1 L2051.6,1730.1 L2054.0,1722.7 L2056.4,1730.4 L2058.8,1720.3 L2061.2,1717.9 L2063.6,1727.7 L2066.0,1729.9 L2068.4,1729.0 L2070.8,1722.6 L2073.2,1718.6 L2075.6,1718.3 L2078.0,1716.6 L2080.4,1715.1 L2082.8,1719.9 L2085.2,1727.0 L2087.6,1727.4 L2090.0,1730.0 L2092.4,1735.1 L2094.8,1728.1 L2097.2,1730.9 L2099.6,1729.1 L2102.0,1722.0 L2104.4,1725.9 L2106.8,1727.0 L2109.2,1719.2 L2111.6,1712.6 L2114.0,1720.1 L2116.4,1723.7 L2118.8,1723.4 L2121.2,1726.9 L2123.6,1724.5 L2126.0,1728.1 L2128.4,1721.2 L2130.8,1729.8 L2133.2,1725.6 L2135.6,1728.2 L2138.0,1717.5 L2140.4,1717.1 L2142.8,1722.3 L2145.2,1718.4 L2147.6,1716.6 L2150.0,1714.3 L2152.4,1723.3 L2154.8,1716.7 L2157.2,1723.7 L2159.6,1719.6 L2162.0,1712.3 L2164.4,1712.1 L2166.8,1715.2 L2169.2,1720.6 L2171.6,1724.5 L2174.0,1721.5 L2176.4,1727.2 L2178.8,1720.2 L2181.2,1726.8 L2183.6,1712.4 L2186.0,1718.8 L2188.4,1709.8 L2190.8,1716.8 L2193.2,1722.5 L2195.6,1721.1 L2198.0,1714.0 L2200.4,1709.2 L2202.8,1717.9 L2205.2,1712.9 L2207.6,1720.8 L2210.0,1721.4 L2212.4,1709.4 L2214.8,1719.0 L2217.2,1711.9 L2219.6,1712.7 L2222.0,1713.9 L2224.4,1720.5" fill="none" stroke="#ff00ff" stroke-width="7.00" stroke-linejoin="round" stroke-linecap="round" shape-rendering="crispEdges"/>
<path d="M1262.0,1700.4 L1264.4,1701.4 L1266.8,1692.7 L1269.2,1696.6 L1271.6,1693.2 L1274.0,1695.0 L1276.4,1696.1 L1278.8,1686.5 L1281.2,1692.3 L1283.6,1697.5 L1286.0,1696.0 L1288.4,1692.5 L1290.8,1693.4 L1293.2,1689.4 L1295.6,1693.4 L1298.0,1687.8 L1300.4,1697.0 L1302.8,1700.4 L1305.2,1707.4 L1307.6,1705.5 L1310.0,1702.4 L1312.4,1700.3 L1314.8,1700.6 L1317.2,1696.3 L1319.6,1707.1 L1322.0,1703.4 L1324.4,1699.1 L1326.8,1712.6 L1329.2,1705.1 L1331.6,1682.7 L1334.0,1697.7 L1336.4,1703.3 L1338.8,1706.7 L1341.2,1711.2 L1343.6,1710.8 L1346.0,1705.4 L1348.4,1698.7 L1350.8,1707.0 L1353.2,1712.2 L1355.6,1709.3 L1358.0,1717.0 L1360.4,1702.5 L1362.8,1703.4 L1365.2,1706.2 L1367.6,1704.5 L1370.0,1717.5 L1372.4,1707.0 L1374.8,1713.6 L1377.2,1707.6 L1379.6,1712.2 L1382.0,1713.9 L1384.4,1712.8 L1386.8,1715.3 L1389.2,1715.0 L1391.6,1721.5 L1394.0,1723.1 L1396.4,1717.5 L1398.8,1722.3 L1401.2,1725.2 L1403.6,1726.5 L1406.0,1731.5 L1408.4,1727.8 L1410.8,1706.2 L1413.2,1709.8 L1415.6,1721.6 L1418.0,1724.8 L1420.4,1721.4 L1422.8,1720.7 L1425.2,1718.9 L1427.6,1722.4 L1430.0,1714.1 L1432.4,1717.4 L1434.8,1723.2 L1437.2,1724.3 L1439.6,1717.3" fill="none" stroke="#0000ff" stroke-width="7.00" stroke-linejoin="round" stroke-linecap="round" shape-rendering="crispEdges"/>
<path d="M1991.6,1723.8 L1994.0,1725.7 L1996.4,1735.1 L1998.8,1731.6 L2001.2,1731.2 L2003.6,1721.4 L2006.0,1724.2 L2008.4,1727.2 L2010.8,1726.4 L2013.2,1726.5 L2015.6,1724.9 L2018.0,1730.4 L2020.4,1732.4 L2022.8,1723.2 L2025.2,1709.0 L2027.6,1717.6 L2030.0,1716.5 L2032.4,1726.0 L2034.8,1732.2 L2037.2,1728.3 L2039.6,1718.6 L2042.0,1728.1 L2044.4,1725.9 L2046.8,1731.6 L2049.2,1727.1 L2051.6,1730.1 L2054.0,1722.7 L2056.4,1730.4 L2058.8,1720.3 L2061.2,1717.9 L2063.6,1727.7 L2066.0,1729.9 L2068.4,1729.0 L2070.8,1722.6 L2073.2,1718.6 L2075.6,1718.3 L2078.0,1716.6 L2080.4,1715.1 L2082.8,1719.9 L2085.2,1727.0 L2087.6,1727.4 L2090.0,1730.0 L2092.4,1735.1 L2094.8,1728.1 L2097.2,1730.9 L2099.6,1729.1 L2102.0,1722.0 L2104.4,1725.9 L2106.8,1727.0 L2109.2,1719.2 L2111.6,1712.6 L2114.0,1720.1 L2116.4,1723.7 L2118.8,1723.4 L2121.2,1726.9 L2123.6,1724.5 L2126.0,1728.1 L2128.4,1721.2 L2130.8,1729.8 L2133.2,1725.6 L2135.6,1728.2 L2138.0,1717.5 L2140.4,1717.1 L2142.8,1722.3 L2145.2,1718.4 L2147.6,1716.6 L2150.0,1714.3 L2152.4,1723.3 L2154.8,1716.7 L2157.2,1723.7 L2159.6,1719.6 L2162.0,1712.3 L2164.4,1712.1 L2166.8,1715.2 L2169.2,1720.6 L2171.6,1724.5 L2174.0,1721.5 L2176.4,1727.2 L2178.8,1720.2 L2181.2,1726.8 L2183.6,1712.4 L2186.0,1718.8 L2188.4,1709.8 L2190.8,1716.8 L2193.2,1722.5 L2195.6,1721.1 L2198.0,1714.0 L2200.4,1709.2 L2202.8,1717.9 L2205.2,1712.9 L2207.6,1720.8 L2210.0,1721.4 L2212.4,1709.4 L2214.8,1719.0 L2217.2,1711.9 L2219.6,1712.7 L2222.0,1713.9 L2224.4,1720.5" fill="none" stroke="#0000ff" stroke-width="7.00" stroke-linejoin="round" stroke-linecap="round" shape-rendering="crispEdges"/>
<path d="M1437.6,1716.3 L1439.1,1716.2 L1440.6,1716.0 L1442.1,1715.9 L1443.6,1715.7 L1445.1,1715.6 L1446.6,1715.4 L1448.1,1715.2 L1449.6,1715.0 L1451.1,1714.8 L1452.6,1714.6 L1454.1,1714.4 L1455.6,1714.2 L1457.1,1713.9 L1458.6,1713.7 L1460.1,1713.4 L1461.6,1713.1 L1463.1,1712.8 L1464.6,1712.5 L1466.1,1712.2 L1467.6,1711.9 L1469.1,1711.5 L1470.6,1711.1 L1472.1,1710.8 L1473.6,1710.4 L1475.1,1709.9 L1476.6,1709.5 L1478.1,1709.0 L1479.6,1708.6 L1481.1,1708.1 L1482.6,1707.5 L1484.1,1707.0 L1485.6,1706.4 L1487.1,1705.9 L1488.6,1705.2 L1490.1,1704.6 L1491.6,1703.9 L1493.1,1703.2 L1494.6,1702.5 L1496.1,1701.8 L1497.6,1701.0 L1499.1,1700.2 L1500.6,1699.4 L1502.1,1698.5 L1503.6,1697.6 L1505.1,1696.6 L1506.6,1695.7 L1508.1,1694.6 L1509.6,1693.6 L1511.1,1692.5 L1512.6,1691.4 L1514.1,1690.2 L1515.6,1689.0 L1517.1,1687.7 L1518.6,1686.4 L1520.1,1685.1 L1521.6,1683.7 L1523.1,1682.3 L1524.6,1680.8 L1526.1,1679.2 L1527.6,1677.7 L1529.1,1676.0 L1530.6,1674.3 L1532.1,1672.6 L1533.6,1670.8 L1535.1,1668.9 L1536.6,1667.0 L1538.1,1665.0 L1539.6,1662.9 L1541.1,1660.8 L1542.6,1658.6 L1544.1,1656.4 L1545.6,1654.1 L1547.1,1651.7 L1548.6,1649.3 L1550.1,1646.8 L1551.6,1644.2 L1553.1,1641.5 L1554.6,1638.8 L1556.1,1636.0 L1557.6,1633.1 L1559.1,1630.1 L1560.6,1627.1 L1562.1,1624.0 L1563.6,1620.8 L1565.1,1617.5 L1566.6,1614.1 L1568.1,1610.7 L1569.6,1607.1 L1571.1,1603.5 L1572.6,1599.8 L1574.1,1596.0 L1575.6,1592.2 L1577.1,1588.2 L1578.6,1584.2 L1580.1,1580.0 L1581.6,1575.8 L1583.1,1571.5 L1584.6,1567.1 L1586.1,1562.6 L1587.6,1558.0 L1589.1,1553.4 L1590.6,1548.6 L1592.1,1543.8 L1593.6,1538.9 L1595.1,1533.9 L1596.6,1528.8 L1598.1,1523.6 L1599.6,1518.4 L1601.1,1513.0 L1602.6,1507.6 L1604.1,1502.1 L1605.6,1496.6 L1607.1,1490.9 L1608.6,1485.2 L1610.1,1479.4 L1611.6,1473.6 L1613.1,1467.7 L1614.6,1461.7 L1616.1,1455.6 L1617.6,1449.5 L1619.1,1443.4 L1620.6,1437.2 L1622.1,1430.9 L1623.6,1424.7 L1625.1,1418.3 L1626.6,1412.0 L1628.1,1405.6 L1629.6,1399.2 L1631.1,1392.7 L1632.6,1386.3 L1634.1,1379.8 L1635.6,1373.3 L1637.1,1366.9 L1638.6,1360.4 L1640.1,1353.9 L1641.6,1347.5 L1643.1,1341.1 L1644.6,1334.7 L1646.1,1328.3 L1647.6,1322.0 L1649.1,1315.7 L1650.6,1309.5 L1652.1,1303.4 L1653.6,1297.3 L1655.1,1291.3 L1656.6,1285.3 L1658.1,1279.5 L1659.6,1273.7 L1661.1,1268.1 L1662.6,1262.5 L1664.1,1257.1 L1665.6,1251.8 L1667.1,1246.6 L1668.6,1241.6 L1670.1,1236.7 L1671.6,1231.9 L1673.1,1227.3 L1674.6,1222.9 L1676.1,1218.6 L1677.6,1214.5 L1679.1,1210.6 L1680.6,1206.8 L1682.1,1203.3 L1683.6,1199.9 L1685.1,1196.8 L1686.6,1193.8 L1688.1,1191.1 L1689.6,1188.6 L1691.1,1186.3 L1692.6,1184.2 L1694.1,1182.3 L1695.6,1180.7 L1697.1,1179.3 L1698.6,1178.1 L1700.1,1177.2 L1701.6,1176.4 L1703.1,1176.0 L1704.6,1175.7 L1706.1,1175.7 L1707.6,1176.0 L1709.1,1176.4 L1710.6,1177.1 L1712.1,1178.1 L1713.6,1179.3 L1715.1,1180.7 L1716.6,1182.3 L1718.1,1184.2 L1719.6,1186.3 L1721.1,1188.6 L1722.6,1191.1 L1724.1,1193.8 L1725.6,1196.8 L1727.1,1200.0 L1728.6,1203.3 L1730.1,1206.9 L1731.6,1210.6 L1733.1,1214.5 L1734.6,1218.6 L1736.1,1222.9 L1737.6,1227.4 L1739.1,1232.0 L1740.6,1236.8 L1742.1,1241.7 L1743.6,1246.8 L1745.1,1252.0 L1746.6,1257.3 L1748.1,1262.7 L1749.6,1268.3 L1751.1,1274.0 L1752.6,1279.8 L1754.1,1285.6 L1755.6,1291.6 L1757.1,1297.6 L1758.6,1303.8 L1760.1,1309.9 L1761.6,1316.2 L1763.1,1322.5 L1764.6,1328.8 L1766.1,1335.2 L1767.6,1341.7 L1769.1,1348.1 L1770.6,1354.6 L1772.1,1361.1 L1773.6,1367.6 L1775.1,1374.1 L1776.6,1380.7 L1778.1,1387.2 L1779.6,1393.7 L1781.1,1400.2 L1782.6,1406.6 L1784.1,1413.1 L1785.6,1419.5 L1787.1,1425.9 L1788.6,1432.2 L1790.1,1438.5 L1791.6,1444.8 L1793.1,1451.0 L1794.6,1457.1 L1796.1,1463.2 L1797.6,1469.3 L1799.1,1475.2 L1800.6,1481.1 L1802.1,1487.0 L1803.6,1492.8 L1805.1,1498.5 L1806.6,1504.1 L1808.1,1509.6 L1809.6,1515.1 L1811.1,1520.5 L1812.6,1525.8 L1814.1,1531.1 L1815.6,1536.2 L1817.1,1541.3 L1818.6,1546.3 L1820.1,1551.1 L1821.6,1556.0 L1823.1,1560.7 L1824.6,1565.3 L1826.1,1569.9 L1827.6,1574.3 L1829.1,1578.7 L1830.6,1583.0 L1832.1,1587.2 L1833.6,1591.3 L1835.1,1595.3 L1836.6,1599.2 L1838.1,1603.1 L1839.6,1606.8 L1841.1,1610.5 L1842.6,1614.1 L1844.1,1617.6 L1845.6,1621.0 L1847.1,1624.4 L1848.6,1627.7 L1850.1,1630.8 L1851.6,1633.9 L1853.1,1637.0 L1854.6,1639.9 L1856.1,1642.8 L1857.6,1645.6 L1859.1,1648.3 L1860.6,1650.9 L1862.1,1653.5 L1863.6,1656.0 L1865.1,1658.4 L1866.6,1660.8 L1868.1,1663.1 L1869.6,1665.3 L1871.1,1667.5 L1872.6,1669.6 L1874.1,1671.7 L1875.6,1673.7 L1877.1,1675.6 L1878.6,1677.4 L1880.1,1679.3 L1881.6,1681.0 L1883.1,1682.7 L1884.6,1684.4 L1886.1,1685.9 L1887.6,1687.5 L1889.1,1689.0 L1890.6,1690.4 L1892.1,1691.8 L1893.6,1693.2 L1895.1,1694.5 L1896.6,1695.8 L1898.1,1697.0 L1899.6,1698.2 L1901.1,1699.3 L1902.6,1700.4 L1904.1,1701.5 L1905.6,1702.5 L1907.1,1703.5 L1908.6,1704.5 L1910.1,1705.4 L1911.6,1706.3 L1913.1,1707.1 L1914.6,1708.0 L1916.1,1708.8 L1917.6,1709.5 L1919.1,1710.3 L1920.6,1711.0 L1922.1,1711.7 L1923.6,1712.3 L1925.1,1713.0 L1926.6,1713.6 L1928.1,1714.2 L1929.6,1714.7 L1931.1,1715.3 L1932.6,1715.8 L1934.1,1716.3 L1935.6,1716.8 L1937.1,1717.3 L1938.6,1717.7 L1940.1,1718.2 L1941.6,1718.6 L1943.1,1719.0 L1944.6,1719.4 L1946.1,1719.7 L1947.6,1720.1 L1949.1,1720.4 L1950.6,1720.8 L1952.1,1721.1 L1953.6,1721.4 L1955.1,1721.7 L1956.6,1721.9 L1958.1,1722.2 L1959.6,1722.5 L1961.1,1722.7 L1962.6,1723.0 L1964.1,1723.2 L1965.6,1723.4 L1967.1,1723.6 L1968.6,1723.8 L1970.1,1724.0 L1971.6,1724.2 L1973.1,1724.4 L1974.6,1724.5 L1976.1,1724.7 L1977.6,1724.9 L1979.1,1725.0 L1980.6,1725.1 L1982.1,1725.3 L1983.6,1725.4 L1985.1,1725.5 L1986.6,1725.7 L1988.1,1725.8 L1989.6,1725.9 L1991.1,1726.0 L1992.6,1726.1" fill="none" stroke="#ff00ff" stroke-width="6.00" stroke-linejoin="round" stroke-linecap="round" shape-rendering="crispEdges"/>
<path d="M1437.6,1719.2 L1439.1,1719.2 L1440.6,1719.2 L1442.1,1719.3 L1443.6,1719.3 L1445.1,1719.3 L1446.6,1719.3 L1448.1,1719.4 L1449.6,1719.4 L1451.1,1719.4 L1452.6,1719.4 L1454.1,1719.4 L1455.6,1719.5 L1457.1,1719.5 L1458.6,1719.5 L1460.1,1719.5 L1461.6,1719.6 L1463.1,1719.6 L1464.6,1719.6 L1466.1,1719.6 L1467.6,1719.7 L1469.1,1719.7 L1470.6,1719.7 L1472.1,1719.7 L1473.6,1719.7 L1475.1,1719.8 L1476.6,1719.8 L1478.1,1719.8 L1479.6,1719.8 L1481.1,1719.9 L1482.6,1719.9 L1484.1,1719.9 L1485.6,1719.9 L1487.1,1719.9 L1488.6,1720.0 L1490.1,1720.0 L1491.6,1720.0 L1493.1,1720.0 L1494.6,1720.1 L1496.1,1720.1 L1497.6,1720.1 L1499.1,1720.1 L1500.6,1720.2 L1502.1,1720.2 L1503.6,1720.2 L1505.1,1720.2 L1506.6,1720.2 L1508.1,1720.3 L1509.6,1720.3 L1511.1,1720.3 L1512.6,1720.3 L1514.1,1720.4 L1515.6,1720.4 L1517.1,1720.4 L1518.6,1720.4 L1520.1,1720.4 L1521.6,1720.5 L1523.1,1720.5 L1524.6,1720.5 L1526.1,1720.5 L1527.6,1720.6 L1529.1,1720.6 L1530.6,1720.6 L1532.1,1720.6 L1533.6,1720.7 L1535.1,1720.7 L1536.6,1720.7 L1538.1,1720.7 L1539.6,1720.7 L1541.1,1720.8 L1542.6,1720.8 L1544.1,1720.8 L1545.6,1720.8 L1547.1,1720.9 L1548.6,1720.9 L1550.1,1720.9 L1551.6,1720.9 L1553.1,1720.9 L1554.6,1721.0 L1556.1,1721.0 L1557.6,1721.0 L1559.1,1721.0 L1560.6,1721.1 L1562.1,1721.1 L1563.6,1721.1 L1565.1,1721.1 L1566.6,1721.2 L1568.1,1721.2 L1569.6,1721.2 L1571.1,1721.2 L1572.6,1721.2 L1574.1,1721.3 L1575.6,1721.3 L1577.1,1721.3 L1578.6,1721.3 L1580.1,1721.4 L1581.6,1721.4 L1583.1,1721.4 L1584.6,1721.4 L1586.1,1721.4 L1587.6,1721.5 L1589.1,1721.5 L1590.6,1721.5 L1592.1,1721.5 L1593.6,1721.5 L1595.1,1721.6 L1596.6,1721.6 L1598.1,1721.6 L1599.6,1721.6 L1601.1,1721.6 L1602.6,1721.7 L1604.1,1721.7 L1605.6,1721.7 L1607.1,1721.7 L1608.6,1721.7 L1610.1,1721.7 L1611.6,1721.8 L1613.1,1721.8 L1614.6,1721.8 L1616.1,1721.8 L1617.6,1721.8 L1619.1,1721.8 L1620.6,1721.8 L1622.1,1721.8 L1623.6,1721.8 L1625.1,1721.7 L1626.6,1721.7 L1628.1,1721.7 L1629.6,1721.7 L1631.1,1721.6 L1632.6,1721.6 L1634.1,1721.5 L1635.6,1721.5 L1637.1,1721.4 L1638.6,1721.3 L1640.1,1721.2 L1641.6,1721.1 L1643.1,1721.0 L1644.6,1720.8 L1646.1,1720.6 L1647.6,1720.4 L1649.1,1720.2 L1650.6,1720.0 L1652.1,1719.7 L1653.6,1719.4 L1655.1,1719.1 L1656.6,1718.7 L1658.1,1718.3 L1659.6,1717.9 L1661.1,1717.4 L1662.6,1716.8 L1664.1,1716.2 L1665.6,1715.6 L1667.1,1714.9 L1668.6,1714.1 L1670.1,1713.2 L1671.6,1712.3 L1673.1,1711.3 L1674.6,1710.2 L1676.1,1709.0 L1677.6,1707.8 L1679.1,1706.4 L1680.6,1704.9 L1682.1,1703.3 L1683.6,1701.6 L1685.1,1699.8 L1686.6,1697.9 L1688.1,1695.8 L1689.6,1693.6 L1691.1,1691.2 L1692.6,1688.8 L1694.1,1686.2 L1695.6,1683.4 L1697.1,1680.5 L1698.6,1677.5 L1700.1,1674.3 L1701.6,1671.0 L1703.1,1667.5 L1704.6,1663.9 L1706.1,1660.1 L1707.6,1656.3 L1709.1,1652.3 L1710.6,1648.2 L1712.1,1644.0 L1713.6,1639.8 L1715.1,1635.4 L1716.6,1631.0 L1718.1,1626.5 L1719.6,1622.0 L1721.1,1617.5 L1722.6,1613.1 L1724.1,1608.6 L1725.6,1604.2 L1727.1,1599.9 L1728.6,1595.7 L1730.1,1591.6 L1731.6,1587.7 L1733.1,1583.9 L1734.6,1580.3 L1736.1,1577.0 L1737.6,1573.9 L1739.1,1571.0 L1740.6,1568.5 L1742.1,1566.3 L1743.6,1564.3 L1745.1,1562.8 L1746.6,1561.5 L1748.1,1560.6 L1749.6,1560.1 L1751.1,1560.0 L1752.6,1560.2 L1754.1,1560.8 L1755.6,1561.8 L1757.1,1563.1 L1758.6,1564.8 L1760.1,1566.8 L1761.6,1569.1 L1763.1,1571.8 L1764.6,1574.7 L1766.1,1577.9 L1767.6,1581.3 L1769.1,1584.9 L1770.6,1588.8 L1772.1,1592.8 L1773.6,1596.9 L1775.1,1601.2 L1776.6,1605.6 L1778.1,1610.0 L1779.6,1614.5 L1781.1,1619.1 L1782.6,1623.6 L1784.1,1628.1 L1785.6,1632.6 L1787.1,1637.1 L1788.6,1641.5 L1790.1,1645.8 L1791.6,1650.0 L1793.1,1654.1 L1794.6,1658.1 L1796.1,1662.0 L1797.6,1665.8 L1799.1,1669.4 L1800.6,1672.9 L1802.1,1676.3 L1803.6,1679.5 L1805.1,1682.5 L1806.6,1685.5 L1808.1,1688.2 L1809.6,1690.9 L1811.1,1693.4 L1812.6,1695.7 L1814.1,1698.0 L1815.6,1700.1 L1817.1,1702.0 L1818.6,1703.9 L1820.1,1705.6 L1821.6,1707.2 L1823.1,1708.8 L1824.6,1710.2 L1826.1,1711.5 L1827.6,1712.7 L1829.1,1713.8 L1830.6,1714.8 L1832.1,1715.8 L1833.6,1716.7 L1835.1,1717.5 L1836.6,1718.3 L1838.1,1719.0 L1839.6,1719.6 L1841.1,1720.2 L1842.6,1720.7 L1844.1,1721.2 L1845.6,1721.6 L1847.1,1722.1 L1848.6,1722.4 L1850.1,1722.8 L1851.6,1723.1 L1853.1,1723.4 L1854.6,1723.6 L1856.1,1723.8 L1857.6,1724.1 L1859.1,1724.2 L1860.6,1724.4 L1862.1,1724.6 L1863.6,1724.7 L1865.1,1724.9 L1866.6,1725.0 L1868.1,1725.1 L1869.6,1725.2 L1871.1,1725.3 L1872.6,1725.4 L1874.1,1725.4 L1875.6,1725.5 L1877.1,1725.6 L1878.6,1725.6 L1880.1,1725.7 L1881.6,1725.7 L1883.1,1725.8 L1884.6,1725.8 L1886.1,1725.9 L1887.6,1725.9 L1889.1,1725.9 L1890.6,1726.0 L1892.1,1726.0 L1893.6,1726.0 L1895.1,1726.1 L1896.6,1726.1 L1898.1,1726.1 L1899.6,1726.2 L1901.1,1726.2 L1902.6,1726.2 L1904.1,1726.2 L1905.6,1726.3 L1907.1,1726.3 L1908.6,1726.3 L1910.1,1726.3 L1911.6,1726.4 L1913.1,1726.4 L1914.6,1726.4 L1916.1,1726.4 L1917.6,1726.5 L1919.1,1726.5 L1920.6,1726.5 L1922.1,1726.5 L1923.6,1726.6 L1925.1,1726.6 L1926.6,1726.6 L1928.1,1726.6 L1929.6,1726.6 L1931.1,1726.7 L1932.6,1726.7 L1934.1,1726.7 L1935.6,1726.7 L1937.1,1726.8 L1938.6,1726.8 L1940.1,1726.8 L1941.6,1726.8 L1943.1,1726.8 L1944.6,1726.9 L1946.1,1726.9 L1947.6,1726.9 L1949.1,1726.9 L1950.6,1727.0 L1952.1,1727.0 L1953.6,1727.0 L1955.1,1727.0 L1956.6,1727.1 L1958.1,1727.1 L1959.6,1727.1 L1961.1,1727.1 L1962.6,1727.1 L1964.1,1727.2 L1965.6,1727.2 L1967.1,1727.2 L1968.6,1727.2 L1970.1,1727.3 L1971.6,1727.3 L1973.1,1727.3 L1974.6,1727.3 L1976.1,1727.3 L1977.6,1727.4 L1979.1,1727.4 L1980.6,1727.4 L1982.1,1727.4 L1983.6,1727.5 L1985.1,1727.5 L1986.6,1727.5 L1988.1,1727.5 L1989.6,1727.6 L1991.1,1727.6 L1992.6,1727.6" fill="none" stroke="#0000ff" stroke-width="6.00" stroke-linejoin="round" stroke-linecap="round" shape-rendering="crispEdges"/>
<path d="M1437.6,1716.3 L1439.1,1716.2 L1440.6,1716.0 L1442.1,1715.9 L1443.6,1715.7 L1445.1,1715.6 L1446.6,1715.4 L1448.1,1715.2 L1449.6,1715.0 L1451.1,1714.8 L1452.6,1714.6 L1454.1,1714.4 L1455.6,1714.2 L1457.1,1713.9 L1458.6,1713.7 L1460.1,1713.4 L1461.6,1713.1 L1463.1,1712.8 L1464.6,1712.5 L1466.1,1712.2 L1467.6,1711.9 L1469.1,1711.5 L1470.6,1711.1 L1472.1,1710.8 L1473.6,1710.4 L1475.1,1709.9 L1476.6,1709.5 L1478.1,1709.0 L1479.6,1708.6 L1481.1,1708.1 L1482.6,1707.5 L1484.1,1707.0 L1485.6,1706.4 L1487.1,1705.9 L1488.6,1705.2 L1490.1,1704.6 L1491.6,1703.9 L1493.1,1703.2 L1494.6,1702.5 L1496.1,1701.8 L1497.6,1701.0 L1499.1,1700.2 L1500.6,1699.4 L1502.1,1698.5 L1503.6,1697.6 L1505.1,1696.6 L1506.6,1695.7 L1508.1,1694.6 L1509.6,1693.6 L1511.1,1692.5 L1512.6,1691.4 L1514.1,1690.2 L1515.6,1689.0 L1517.1,1687.7 L1518.6,1686.4 L1520.1,1685.1 L1521.6,1683.7 L1523.1,1682.3 L1524.6,1680.8 L1526.1,1679.2 L1527.6,1677.7 L1529.1,1676.0 L1530.6,1674.3 L1532.1,1672.6 L1533.6,1670.8 L1535.1,1668.9 L1536.6,1667.0 L1538.1,1665.0 L1539.6,1662.9 L1541.1,1660.8 L1542.6,1658.6 L1544.1,1656.4 L1545.6,1654.1 L1547.1,1651.7 L1548.6,1649.3 L1550.1,1646.8 L1551.6,1644.2 L1553.1,1641.5 L1554.6,1638.8 L1556.1,1636.0 L1557.6,1633.1 L1559.1,1630.1 L1560.6,1627.1 L1562.1,1624.0 L1563.6,1620.8 L1565.1,1617.5 L1566.6,1614.1 L1568.1,1610.7 L1569.6,1607.1 L1571.1,1603.5 L1572.6,1599.8 L1574.1,1596.0 L1575.6,1592.2 L1577.1,1588.2 L1578.6,1584.2 L1580.1,1580.0 L1581.6,1575.8 L1583.1,1571.5 L1584.6,1567.1 L1586.1,1562.6 L1587.6,1558.0 L1589.1,1553.4 L1590.6,1548.6 L1592.1,1543.8 L1593.6,1538.9 L1595.1,1533.9 L1596.6,1528.8 L1598.1,1523.6 L1599.6,1518.3 L1601.1,1513.0 L1602.6,1507.6 L1604.1,1502.1 L1605.6,1496.5 L1607.1,1490.9 L1608.6,1485.1 L1610.1,1479.4 L1611.6,1473.5 L1613.1,1467.6 L1614.6,1461.6 L1616.1,1455.5 L1617.6,1449.4 L1619.1,1443.2 L1620.6,1437.0 L1622.1,1430.7 L1623.6,1424.4 L1625.1,1418.0 L1626.6,1411.6 L1628.1,1405.2 L1629.6,1398.7 L1631.1,1392.2 L1632.6,1385.7 L1634.1,1379.2 L1635.6,1372.6 L1637.1,1366.0 L1638.6,1359.5 L1640.1,1352.9 L1641.6,1346.3 L1643.1,1339.7 L1644.6,1333.2 L1646.1,1326.6 L1647.6,1320.1 L1649.1,1313.6 L1650.6,1307.1 L1652.1,1300.7 L1653.6,1294.2 L1655.1,1287.9 L1656.6,1281.6 L1658.1,1275.3 L1659.6,1269.0 L1661.1,1262.9 L1662.6,1256.8 L1664.1,1250.7 L1665.6,1244.7 L1667.1,1238.8 L1668.6,1233.0 L1670.1,1227.2 L1671.6,1221.5 L1673.1,1215.9 L1674.6,1210.3 L1676.1,1204.8 L1677.6,1199.4 L1679.1,1194.1 L1680.6,1188.9 L1682.1,1183.7 L1683.6,1178.6 L1685.1,1173.6 L1686.6,1168.7 L1688.1,1163.9 L1689.6,1159.2 L1691.1,1154.5 L1692.6,1149.9 L1694.1,1145.4 L1695.6,1141.0 L1697.1,1136.7 L1698.6,1132.4 L1700.1,1128.3 L1701.6,1124.2 L1703.1,1120.2 L1704.6,1116.4 L1706.1,1112.6 L1707.6,1109.0 L1709.1,1105.4 L1710.6,1102.0 L1712.1,1098.8 L1713.6,1095.6 L1715.1,1092.7 L1716.6,1089.9 L1718.1,1087.3 L1719.6,1084.8 L1721.1,1082.6 L1722.6,1080.7 L1724.1,1078.9 L1725.6,1077.5 L1727.1,1076.3 L1728.6,1075.4 L1730.1,1074.8 L1731.6,1074.6 L1733.1,1074.8 L1734.6,1075.3 L1736.1,1076.2 L1737.6,1077.5 L1739.1,1079.3 L1740.6,1081.5 L1742.1,1084.1 L1743.6,1087.3 L1745.1,1090.9 L1746.6,1094.9 L1748.1,1099.5 L1749.6,1104.5 L1751.1,1110.0 L1752.6,1116.0 L1754.1,1122.5 L1755.6,1129.4 L1757.1,1136.7 L1758.6,1144.5 L1760.1,1152.7 L1761.6,1161.2 L1763.1,1170.1 L1764.6,1179.4 L1766.1,1188.9 L1767.6,1198.8 L1769.1,1208.8 L1770.6,1219.1 L1772.1,1229.6 L1773.6,1240.3 L1775.1,1251.0 L1776.6,1261.9 L1778.1,1272.8 L1779.6,1283.8 L1781.1,1294.8 L1782.6,1305.8 L1784.1,1316.8 L1785.6,1327.6 L1787.1,1338.5 L1788.6,1349.2 L1790.1,1359.7 L1791.6,1370.2 L1793.1,1380.5 L1794.6,1390.6 L1796.1,1400.6 L1797.6,1410.4 L1799.1,1420.0 L1800.6,1429.4 L1802.1,1438.5 L1803.6,1447.5 L1805.1,1456.2 L1806.6,1464.8 L1808.1,1473.1 L1809.6,1481.2 L1811.1,1489.0 L1812.6,1496.7 L1814.1,1504.1 L1815.6,1511.4 L1817.1,1518.4 L1818.6,1525.2 L1820.1,1531.8 L1821.6,1538.2 L1823.1,1544.4 L1824.6,1550.4 L1826.1,1556.2 L1827.6,1561.9 L1829.1,1567.4 L1830.6,1572.7 L1832.1,1577.8 L1833.6,1582.8 L1835.1,1587.6 L1836.6,1592.3 L1838.1,1596.8 L1839.6,1601.2 L1841.1,1605.4 L1842.6,1609.5 L1844.1,1613.5 L1845.6,1617.3 L1847.1,1621.0 L1848.6,1624.7 L1850.1,1628.2 L1851.6,1631.5 L1853.1,1634.8 L1854.6,1638.0 L1856.1,1641.1 L1857.6,1644.1 L1859.1,1647.0 L1860.6,1649.8 L1862.1,1652.5 L1863.6,1655.1 L1865.1,1657.6 L1866.6,1660.1 L1868.1,1662.5 L1869.6,1664.8 L1871.1,1667.0 L1872.6,1669.2 L1874.1,1671.3 L1875.6,1673.3 L1877.1,1675.3 L1878.6,1677.2 L1880.1,1679.0 L1881.6,1680.8 L1883.1,1682.5 L1884.6,1684.2 L1886.1,1685.8 L1887.6,1687.4 L1889.1,1688.9 L1890.6,1690.3 L1892.1,1691.8 L1893.6,1693.1 L1895.1,1694.4 L1896.6,1695.7 L1898.1,1696.9 L1899.6,1698.1 L1901.1,1699.3 L1902.6,1700.4 L1904.1,1701.5 L1905.6,1702.5 L1907.1,1703.5 L1908.6,1704.4 L1910.1,1705.4 L1911.6,1706.3 L1913.1,1707.1 L1914.6,1707.9 L1916.1,1708.7 L1917.6,1709.5 L1919.1,1710.3 L1920.6,1711.0 L1922.1,1711.7 L1923.6,1712.3 L1925.1,1713.0 L1926.6,1713.6 L1928.1,1714.2 L1929.6,1714.7 L1931.1,1715.3 L1932.6,1715.8 L1934.1,1716.3 L1935.6,1716.8 L1937.1,1717.3 L1938.6,1717.7 L1940.1,1718.2 L1941.6,1718.6 L1943.1,1719.0 L1944.6,1719.4 L1946.1,1719.7 L1947.6,1720.1 L1949.1,1720.4 L1950.6,1720.8 L1952.1,1721.1 L1953.6,1721.4 L1955.1,1721.7 L1956.6,1721.9 L1958.1,1722.2 L1959.6,1722.5 L1961.1,1722.7 L1962.6,1723.0 L1964.1,1723.2 L1965.6,1723.4 L1967.1,1723.6 L1968.6,1723.8 L1970.1,1724.0 L1971.6,1724.2 L1973.1,1724.4 L1974.6,1724.5 L1976.1,1724.7 L1977.6,1724.9 L1979.1,1725.0 L1980.6,1725.1 L1982.1,1725.3 L1983.6,1725.4 L1985.1,1725.5 L1986.6,1725.7 L1988.1,1725.8 L1989.6,1725.9 L1991.1,1726.0 L1992.6,1726.1" fill="none" stroke="#000" stroke-width="4.60" stroke-linejoin="round" stroke-linecap="round" shape-rendering="crispEdges"/>
<path d="M1262.0,1700.4 L1264.4,1701.4 L1266.8,1692.7 L1269.2,1696.6 L1271.6,1693.2 L1274.0,1695.0 L1276.4,1696.1 L1278.8,1686.5 L1281.2,1692.3 L1283.6,1697.5 L1286.0,1696.0 L1288.4,1692.5 L1290.8,1693.4 L1293.2,1689.4 L1295.6,1693.4 L1298.0,1687.8 L1300.4,1697.0 L1302.8,1700.4 L1305.2,1707.4 L1307.6,1705.5 L1310.0,1702.4 L1312.4,1700.3 L1314.8,1700.6 L1317.2,1696.3 L1319.6,1707.1 L1322.0,1703.4 L1324.4,1699.1 L1326.8,1712.6 L1329.2,1705.1 L1331.6,1682.7 L1334.0,1697.7 L1336.4,1703.3 L1338.8,1706.7 L1341.2,1711.2 L1343.6,1710.8 L1346.0,1705.4 L1348.4,1698.7 L1350.8,1707.0 L1353.2,1712.2 L1355.6,1709.3 L1358.0,1717.0 L1360.4,1702.5 L1362.8,1703.4 L1365.2,1706.2 L1367.6,1704.5 L1370.0,1717.5 L1372.4,1707.0 L1374.8,1713.6 L1377.2,1707.6 L1379.6,1712.2 L1382.0,1713.9 L1384.4,1712.8 L1386.8,1715.3 L1389.2,1715.0 L1391.6,1721.5 L1394.0,1723.1 L1396.4,1717.5 L1398.8,1722.3 L1401.2,1725.2 L1403.6,1726.5 L1406.0,1731.5 L1408.4,1727.8 L1410.8,1706.2 L1413.2,1709.8 L1415.6,1721.6 L1418.0,1724.8 L1420.4,1721.4 L1422.8,1720.7 L1425.2,1718.9 L1427.6,1722.4 L1430.0,1714.1 L1432.4,1717.4 L1434.8,1723.2 L1437.2,1724.3 L1439.6,1717.3 L1442.0,1716.2 L1444.4,1710.6 L1446.8,1710.9 L1449.2,1711.2 L1451.6,1712.4 L1454.0,1711.3 L1456.4,1715.5 L1458.8,1717.5 L1461.2,1717.8 L1463.6,1715.3 L1466.0,1712.0 L1468.4,1719.0 L1470.8,1712.3 L1473.2,1703.8 L1475.6,1709.9 L1478.0,1711.2 L1480.4,1711.5 L1482.8,1710.6 L1485.2,1710.8 L1487.6,1703.4 L1490.0,1710.7 L1492.4,1714.3 L1494.8,1713.7 L1497.2,1716.4 L1499.6,1708.6 L1502.0,1712.1 L1504.4,1706.5 L1506.8,1707.7 L1509.2,1701.8 L1511.6,1701.6 L1514.0,1704.8 L1516.4,1707.0 L1518.8,1700.6 L1521.2,1691.3 L1523.6,1700.4 L1526.0,1694.4 L1528.4,1695.5 L1530.8,1695.4 L1533.2,1690.7 L1535.6,1681.8 L1538.0,1682.6 L1540.4,1689.0 L1542.8,1691.5 L1545.2,1679.9 L1547.6,1673.0 L1550.0,1666.7 L1552.4,1666.4 L1554.8,1656.5 L1557.2,1663.0 L1559.6,1653.3 L1562.0,1646.6 L1564.4,1635.9 L1566.8,1626.3 L1569.2,1615.3 L1571.6,1623.0 L1574.0,1612.2 L1576.4,1597.3 L1578.8,1604.7 L1581.2,1587.0 L1583.6,1582.9 L1586.0,1568.6 L1588.4,1553.2 L1590.8,1549.3 L1593.2,1547.3 L1595.6,1526.1 L1598.0,1523.2 L1600.4,1522.1 L1602.8,1512.6 L1605.2,1500.0 L1607.6,1482.3 L1610.0,1481.2 L1612.4,1476.4 L1614.8,1464.3 L1617.2,1449.2 L1619.6,1442.3 L1622.0,1433.6 L1624.4,1421.3 L1626.8,1407.2 L1629.2,1392.4 L1631.6,1376.3 L1634.0,1362.9 L1636.4,1345.3 L1638.8,1330.0 L1641.2,1318.5 L1643.6,1309.3 L1646.0,1296.8 L1648.4,1303.5 L1650.8,1293.2 L1653.2,1295.6 L1655.6,1277.5 L1658.0,1275.2 L1660.4,1257.5 L1662.8,1251.2 L1665.2,1236.3 L1667.6,1229.1 L1670.0,1216.6 L1672.4,1206.2 L1674.8,1195.5 L1677.2,1190.4 L1679.6,1174.7 L1682.0,1175.2 L1684.4,1162.6 L1686.8,1159.4 L1689.2,1144.6 L1691.6,1143.3 L1694.0,1133.0 L1696.4,1129.9 L1698.8,1123.6 L1701.2,1114.5 L1703.6,1112.8 L1706.0,1107.1 L1708.4,1096.5 L1710.8,1076.3 L1713.2,1075.0 L1715.6,1070.3 L1718.0,1063.7 L1720.4,1059.2 L1722.8,1068.9 L1725.2,1064.0 L1727.6,1065.3 L1730.0,1067.1 L1732.4,1059.5 L1734.8,1063.3 L1737.2,1056.8 L1739.6,1063.5 L1742.0,1057.5 L1744.4,1073.3 L1746.8,1089.1 L1749.2,1094.9 L1751.6,1096.0 L1754.0,1105.8 L1756.4,1129.7 L1758.8,1143.5 L1761.2,1155.8 L1763.6,1170.6 L1766.0,1183.0 L1768.4,1191.1 L1770.8,1211.1 L1773.2,1225.1 L1775.6,1246.6 L1778.0,1256.3 L1780.4,1277.6 L1782.8,1296.1 L1785.2,1307.8 L1787.6,1332.4 L1790.0,1339.8 L1792.4,1366.9 L1794.8,1372.8 L1797.2,1399.1 L1799.6,1415.7 L1802.0,1436.8 L1804.4,1460.1 L1806.8,1465.4 L1809.2,1480.8 L1811.6,1491.4 L1814.0,1506.6 L1816.4,1518.7 L1818.8,1530.1 L1821.2,1544.0 L1823.6,1547.4 L1826.0,1557.0 L1828.4,1569.1 L1830.8,1574.5 L1833.2,1578.1 L1835.6,1591.7 L1838.0,1596.1 L1840.4,1600.5 L1842.8,1609.3 L1845.2,1616.9 L1847.6,1627.3 L1850.0,1630.0 L1852.4,1636.0 L1854.8,1646.7 L1857.2,1649.4 L1859.6,1646.4 L1862.0,1645.6 L1864.4,1659.1 L1866.8,1656.9 L1869.2,1659.1 L1871.6,1665.0 L1874.0,1669.2 L1876.4,1670.5 L1878.8,1676.6 L1881.2,1669.2 L1883.6,1678.0 L1886.0,1680.1 L1888.4,1682.8 L1890.8,1683.0 L1893.2,1684.7 L1895.6,1696.6 L1898.0,1692.8 L1900.4,1693.7 L1902.8,1693.4 L1905.2,1694.3 L1907.6,1692.2 L1910.0,1693.4 L1912.4,1699.8 L1914.8,1696.4 L1917.2,1706.2 L1919.6,1703.7 L1922.0,1705.1 L1924.4,1700.9 L1926.8,1697.4 L1929.2,1700.4 L1931.6,1705.2 L1934.0,1711.8 L1936.4,1710.6 L1938.8,1705.6 L1941.2,1709.8 L1943.6,1709.2 L1946.0,1715.2 L1948.4,1709.5 L1950.8,1705.8 L1953.2,1706.6 L1955.6,1715.3 L1958.0,1719.0 L1960.4,1712.1 L1962.8,1706.9 L1965.2,1707.3 L1967.6,1709.6 L1970.0,1706.3 L1972.4,1719.4 L1974.8,1717.0 L1977.2,1713.3 L1979.6,1708.7 L1982.0,1718.8 L1984.4,1718.3 L1986.8,1721.1 L1989.2,1725.9 L1991.6,1723.8 L1994.0,1725.7 L1996.4,1735.1 L1998.8,1731.6 L2001.2,1731.2 L2003.6,1721.4 L2006.0,1724.2 L2008.4,1727.2 L2010.8,1726.4 L2013.2,1726.5 L2015.6,1724.9 L2018.0,1730.4 L2020.4,1732.4 L2022.8,1723.2 L2025.2,1709.0 L2027.6,1717.6 L2030.0,1716.5 L2032.4,1726.0 L2034.8,1732.2 L2037.2,1728.3 L2039.6,1718.6 L2042.0,1728.1 L2044.4,1725.9 L2046.8,1731.6 L2049.2,1727.1 L2051.6,1730.1 L2054.0,1722.7 L2056.4,1730.4 L2058.8,1720.3 L2061.2,1717.9 L2063.6,1727.7 L2066.0,1729.9 L2068.4,1729.0 L2070.8,1722.6 L2073.2,1718.6 L2075.6,1718.3 L2078.0,1716.6 L2080.4,1715.1 L2082.8,1719.9 L2085.2,1727.0 L2087.6,1727.4 L2090.0,1730.0 L2092.4,1735.1 L2094.8,1728.1 L2097.2,1730.9 L2099.6,1729.1 L2102.0,1722.0 L2104.4,1725.9 L2106.8,1727.0 L2109.2,1719.2 L2111.6,1712.6 L2114.0,1720.1 L2116.4,1723.7 L2118.8,1723.4 L2121.2,1726.9 L2123.6,1724.5 L2126.0,1728.1 L2128.4,1721.2 L2130.8,1729.8 L2133.2,1725.6 L2135.6,1728.2 L2138.0,1717.5 L2140.4,1717.1 L2142.8,1722.3 L2145.2,1718.4 L2147.6,1716.6 L2150.0,1714.3 L2152.4,1723.3 L2154.8,1716.7 L2157.2,1723.7 L2159.6,1719.6 L2162.0,1712.3 L2164.4,1712.1 L2166.8,1715.2 L2169.2,1720.6 L2171.6,1724.5 L2174.0,1721.5 L2176.4,1727.2 L2178.8,1720.2 L2181.2,1726.8 L2183.6,1712.4 L2186.0,1718.8 L2188.4,1709.8 L2190.8,1716.8 L2193.2,1722.5 L2195.6,1721.1 L2198.0,1714.0 L2200.4,1709.2 L2202.8,1717.9 L2205.2,1712.9 L2207.6,1720.8 L2210.0,1721.4 L2212.4,1709.4 L2214.8,1719.0 L2217.2,1711.9 L2219.6,1712.7 L2222.0,1713.9 L2224.4,1720.5" fill="none" stroke="#000" stroke-width="5.00" stroke-linejoin="round" stroke-linecap="round" shape-rendering="crispEdges"/>
<g font-family="'Liberation Sans', Arial, Helvetica, sans-serif" fill="#000">
<text transform="translate(113.06 917.70) scale(0.5500 0.5609)" font-size="100">60</text>
<text transform="translate(209.88 917.70) scale(0.5500 0.5609)" font-size="100">58</text>
<text transform="translate(306.28 917.70) scale(0.5500 0.5609)" font-size="100">56</text>
<text transform="translate(402.26 917.70) scale(0.5500 0.5609)" font-size="100">54</text>
<text transform="translate(499.21 917.70) scale(0.5500 0.5609)" font-size="100">52</text>
<text transform="translate(595.34 917.70) scale(0.5500 0.5609)" font-size="100">50</text>
<text transform="translate(692.43 917.70) scale(0.5500 0.5609)" font-size="100">48</text>
<text transform="translate(788.83 917.70) scale(0.5500 0.5609)" font-size="100">46</text>
<text transform="translate(884.81 917.70) scale(0.5500 0.5609)" font-size="100">44</text>
<text transform="translate(981.76 917.70) scale(0.5500 0.5609)" font-size="100">42</text>
<text transform="translate(1077.89 917.70) scale(0.5500 0.5609)" font-size="100">40</text>
<text transform="translate(561.83 980.60) scale(0.6459 0.6594)" font-size="100">BE, eV</text>
<text transform="translate(86.90 651.53) rotate(-90) scale(0.6371 0.6638)" font-size="100">Intensity, a.u.</text>
<text transform="translate(168.48 125.90) scale(0.5530 0.5797)" font-size="100">Mg 2p</text>
<text transform="translate(588.91 122.60) scale(0.5464 0.5594)" font-size="100">49.8</text>
<text transform="translate(884.16 140.90) scale(0.7304 0.7667)" font-size="100">MgO</text>
<text transform="translate(109.06 1895.70) scale(0.5500 0.5580)" font-size="100">60</text>
<text transform="translate(205.88 1895.70) scale(0.5500 0.5580)" font-size="100">58</text>
<text transform="translate(302.28 1895.70) scale(0.5500 0.5580)" font-size="100">56</text>
<text transform="translate(398.26 1895.70) scale(0.5500 0.5580)" font-size="100">54</text>
<text transform="translate(495.21 1895.70) scale(0.5500 0.5580)" font-size="100">52</text>
<text transform="translate(591.34 1895.70) scale(0.5500 0.5580)" font-size="100">50</text>
<text transform="translate(688.43 1895.70) scale(0.5500 0.5580)" font-size="100">48</text>
<text transform="translate(784.83 1895.70) scale(0.5500 0.5580)" font-size="100">46</text>
<text transform="translate(880.81 1895.70) scale(0.5500 0.5580)" font-size="100">44</text>
<text transform="translate(977.76 1895.70) scale(0.5500 0.5580)" font-size="100">42</text>
<text transform="translate(1073.89 1895.70) scale(0.5500 0.5580)" font-size="100">40</text>
<text transform="translate(561.83 1965.80) scale(0.6459 0.6638)" font-size="100">BE, eV</text>
<text transform="translate(87.00 1624.71) rotate(-90) scale(0.6346 0.6522)" font-size="100">Intensity, a.u.</text>
<text transform="translate(164.38 1103.90) scale(0.5523 0.5783)" font-size="100">Mg 2p</text>
<text transform="translate(584.91 1099.50) scale(0.5464 0.5580)" font-size="100">49.6</text>
<text transform="translate(819.34 1144.80) scale(0.7314 0.7638)" font-size="100">Cl/MgO</text>
<text transform="translate(1212.08 917.70) scale(0.5500 0.5609)" font-size="100">540</text>
<text transform="translate(1453.08 917.70) scale(0.5500 0.5609)" font-size="100">535</text>
<text transform="translate(1694.08 917.70) scale(0.5500 0.5609)" font-size="100">530</text>
<text transform="translate(1935.08 917.70) scale(0.5500 0.5609)" font-size="100">525</text>
<text transform="translate(2176.07 917.70) scale(0.5500 0.5609)" font-size="100">520</text>
<text transform="translate(1703.83 980.60) scale(0.6462 0.6594)" font-size="100">BE, eV</text>
<text transform="translate(1208.80 645.41) rotate(-90) scale(0.6346 0.6536)" font-size="100">Intensity, a.u.</text>
<text transform="translate(1283.54 126.00) scale(0.5468 0.5667)" font-size="100">O 1s</text>
<text transform="translate(2025.16 146.80) scale(0.7304 0.7652)" font-size="100">MgO</text>
<text transform="translate(1742.82 264.50) scale(0.5455 0.5580)" font-size="100">530.5</text>
<text transform="translate(1456.83 382.50) scale(0.5421 0.5580)" font-size="100">532.4</text>
<text transform="translate(1216.08 1892.00) scale(0.5500 0.5652)" font-size="100">540</text>
<text transform="translate(1457.08 1892.00) scale(0.5500 0.5652)" font-size="100">535</text>
<text transform="translate(1698.08 1892.00) scale(0.5500 0.5652)" font-size="100">530</text>
<text transform="translate(1939.08 1892.00) scale(0.5500 0.5652)" font-size="100">525</text>
<text transform="translate(2180.07 1892.00) scale(0.5500 0.5652)" font-size="100">520</text>
<text transform="translate(1703.83 1965.80) scale(0.6462 0.6638)" font-size="100">BE, eV</text>
<text transform="translate(1208.80 1619.40) rotate(-90) scale(0.6337 0.6536)" font-size="100">Intensity, a.u.</text>
<text transform="translate(1287.33 1100.00) scale(0.5478 0.5667)" font-size="100">O 1s</text>
<text transform="translate(1960.34 1150.90) scale(0.7314 0.7652)" font-size="100">Cl/MgO</text>
<text transform="translate(1551.82 1146.50) scale(0.5455 0.5580)" font-size="100">530.8</text>
<text transform="translate(1667.82 1541.60) scale(0.5455 0.5594)" font-size="100">529.8</text>
</g>
</svg></body></html>
